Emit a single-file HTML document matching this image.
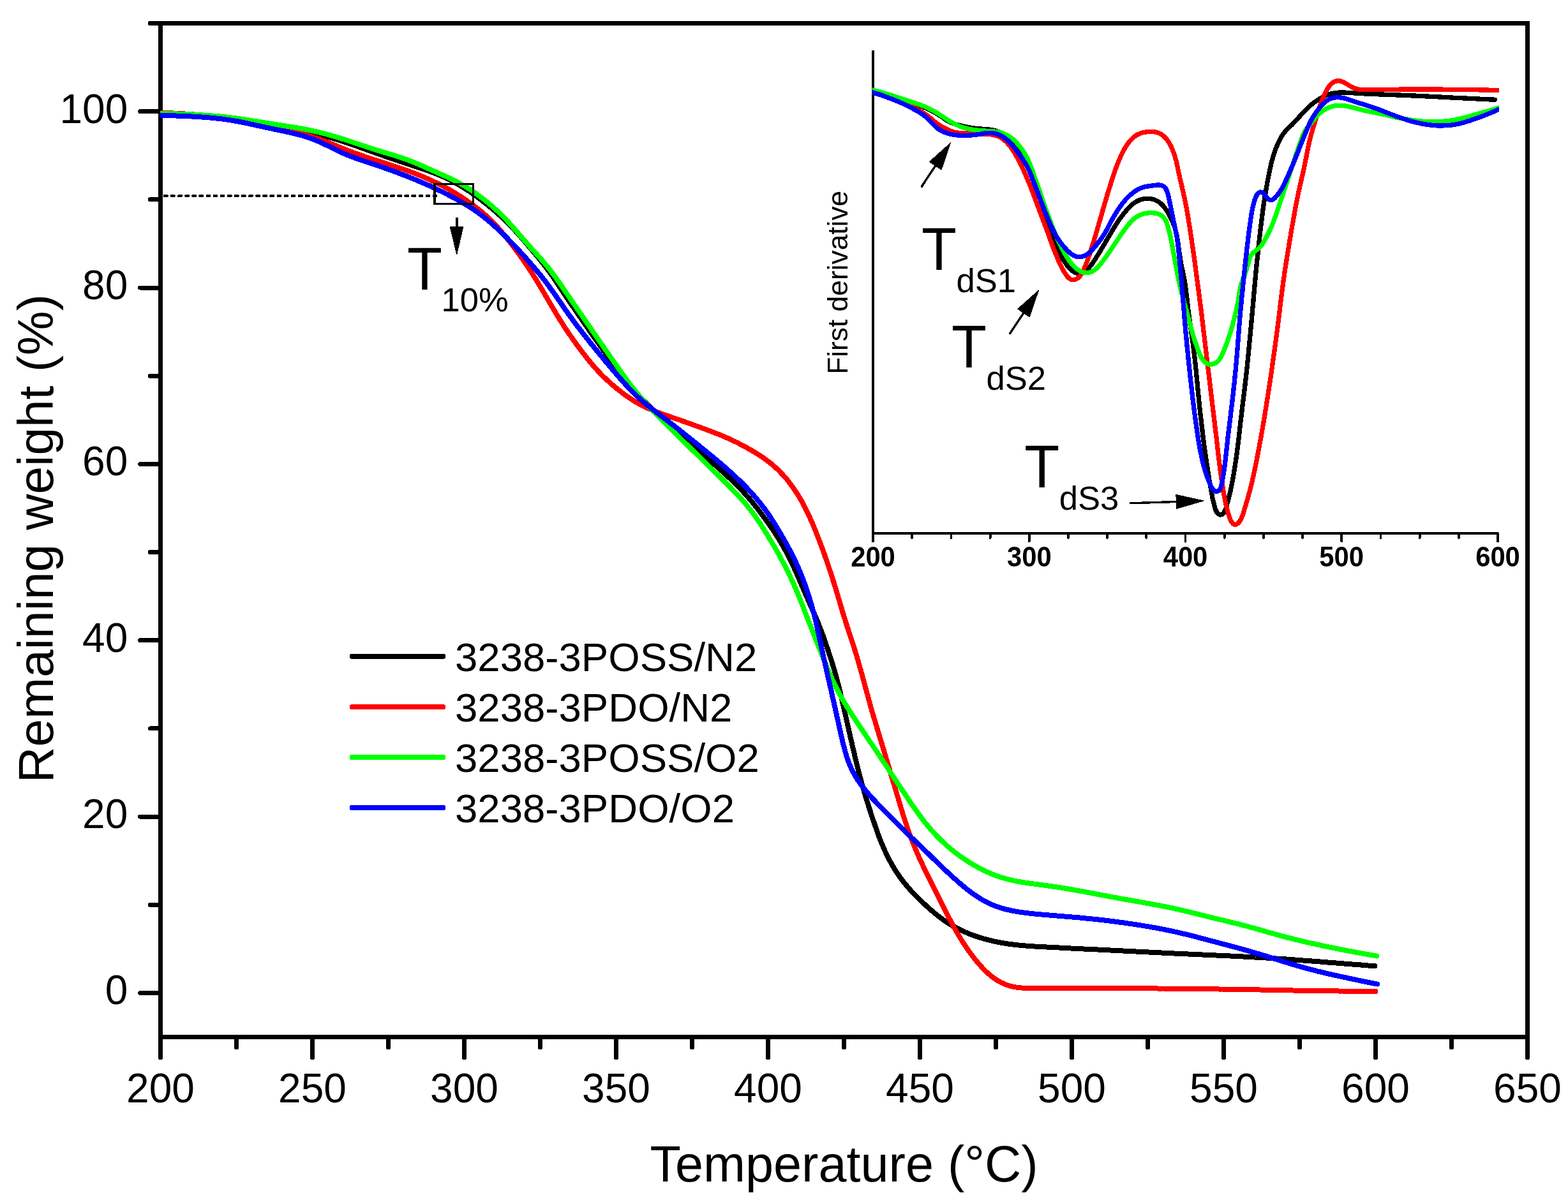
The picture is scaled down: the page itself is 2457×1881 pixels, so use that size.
<!DOCTYPE html>
<html lang="en"><head><meta charset="utf-8"><title>TGA curves</title>
<style>html,body{margin:0;padding:0;background:#fff;}svg{display:block;}</style>
</head><body>
<svg width="2457" height="1881" viewBox="0 0 2457 1881" shape-rendering="crispEdges" font-family='"Liberation Sans", sans-serif'>
<rect x="0" y="0" width="2457" height="1881" fill="#ffffff"/>
<g stroke="#000" stroke-width="7.0" fill="none" stroke-linecap="round">
<path d="M251.5,36.5 H2393.5 V1625.5 H251.5 Z" stroke-linejoin="miter" stroke-linecap="butt"/>
<line x1="251.5" y1="1556.4" x2="219.7" y2="1556.4"/>
<line x1="251.5" y1="1280.1" x2="219.7" y2="1280.1"/>
<line x1="251.5" y1="1003.7" x2="219.7" y2="1003.7"/>
<line x1="251.5" y1="727.4" x2="219.7" y2="727.4"/>
<line x1="251.5" y1="451.0" x2="219.7" y2="451.0"/>
<line x1="251.5" y1="174.7" x2="219.7" y2="174.7"/>
<line x1="251.5" y1="1418.2" x2="235.3" y2="1418.2"/>
<line x1="251.5" y1="1141.9" x2="235.3" y2="1141.9"/>
<line x1="251.5" y1="865.5" x2="235.3" y2="865.5"/>
<line x1="251.5" y1="589.2" x2="235.3" y2="589.2"/>
<line x1="251.5" y1="312.8" x2="235.3" y2="312.8"/>
<line x1="251.5" y1="36.5" x2="235.3" y2="36.5"/>
<line x1="251.5" y1="1625.5" x2="251.5" y2="1657.5"/>
<line x1="489.5" y1="1625.5" x2="489.5" y2="1657.5"/>
<line x1="727.5" y1="1625.5" x2="727.5" y2="1657.5"/>
<line x1="965.5" y1="1625.5" x2="965.5" y2="1657.5"/>
<line x1="1203.5" y1="1625.5" x2="1203.5" y2="1657.5"/>
<line x1="1441.5" y1="1625.5" x2="1441.5" y2="1657.5"/>
<line x1="1679.5" y1="1625.5" x2="1679.5" y2="1657.5"/>
<line x1="1917.5" y1="1625.5" x2="1917.5" y2="1657.5"/>
<line x1="2155.5" y1="1625.5" x2="2155.5" y2="1657.5"/>
<line x1="2393.5" y1="1625.5" x2="2393.5" y2="1657.5"/>
<line x1="370.5" y1="1625.5" x2="370.5" y2="1641.5"/>
<line x1="608.5" y1="1625.5" x2="608.5" y2="1641.5"/>
<line x1="846.5" y1="1625.5" x2="846.5" y2="1641.5"/>
<line x1="1084.5" y1="1625.5" x2="1084.5" y2="1641.5"/>
<line x1="1322.5" y1="1625.5" x2="1322.5" y2="1641.5"/>
<line x1="1560.5" y1="1625.5" x2="1560.5" y2="1641.5"/>
<line x1="1798.5" y1="1625.5" x2="1798.5" y2="1641.5"/>
<line x1="2036.5" y1="1625.5" x2="2036.5" y2="1641.5"/>
<line x1="2274.5" y1="1625.5" x2="2274.5" y2="1641.5"/>
</g>
<defs><clipPath id="mc"><rect x="251.1" y="40" width="2140" height="1583"/></clipPath><clipPath id="ic"><rect x="1366.6" y="60" width="982.4" height="790"/></clipPath></defs>
<g fill="none" stroke-linejoin="round" stroke-linecap="round" clip-path="url(#mc)">
<path d="M252.0,179.0 L256.0,179.0 L260.0,179.1 L264.0,179.2 L268.0,179.3 L272.0,179.5 L276.0,179.6 L280.0,179.8 L284.0,180.0 L288.0,180.2 L292.0,180.4 L296.0,180.7 L300.0,180.9 L303.9,181.2 L307.9,181.4 L311.9,181.7 L315.9,182.0 L319.9,182.3 L323.9,182.6 L327.9,182.9 L331.9,183.3 L335.9,183.6 L339.8,184.0 L343.8,184.4 L347.8,184.8 L351.8,185.3 L355.7,185.8 L359.7,186.3 L363.7,186.8 L367.6,187.3 L371.6,187.9 L375.5,188.5 L379.5,189.1 L383.4,189.7 L387.4,190.3 L391.3,191.0 L395.3,191.6 L399.2,192.3 L403.2,193.0 L407.1,193.6 L411.1,194.3 L415.0,194.9 L419.0,195.6 L422.9,196.2 L426.9,196.9 L430.8,197.5 L434.8,198.2 L438.7,198.8 L442.6,199.5 L446.6,200.2 L450.5,200.8 L454.5,201.5 L458.4,202.2 L462.4,202.9 L466.3,203.7 L470.2,204.4 L474.1,205.2 L478.1,206.0 L482.0,206.8 L485.9,207.7 L489.8,208.5 L493.7,209.4 L497.6,210.4 L501.5,211.3 L505.3,212.3 L509.2,213.3 L513.1,214.4 L516.9,215.5 L520.7,216.6 L524.6,217.7 L528.4,218.9 L532.2,220.1 L536.0,221.3 L539.8,222.5 L543.6,223.8 L547.4,225.0 L551.2,226.3 L555.0,227.6 L558.8,229.0 L562.5,230.3 L566.3,231.7 L570.1,233.0 L573.8,234.4 L577.6,235.7 L581.4,237.1 L585.1,238.4 L588.9,239.8 L592.6,241.1 L596.4,242.5 L600.2,243.8 L604.0,245.2 L607.7,246.5 L611.5,247.8 L615.3,249.1 L619.1,250.4 L622.9,251.7 L626.7,252.9 L630.5,254.2 L634.3,255.5 L638.1,256.7 L641.9,258.0 L645.7,259.2 L649.5,260.4 L653.3,261.7 L657.1,262.9 L660.9,264.2 L664.6,265.5 L668.4,266.8 L672.2,268.2 L676.0,269.5 L679.7,270.9 L683.4,272.4 L687.1,273.9 L690.8,275.5 L694.5,277.1 L698.1,278.7 L701.7,280.4 L705.3,282.2 L708.8,284.0 L712.4,285.9 L715.9,287.9 L719.3,289.8 L722.8,291.9 L726.2,294.0 L729.6,296.1 L732.9,298.3 L736.3,300.5 L739.6,302.7 L742.8,305.0 L746.1,307.4 L749.3,309.7 L752.5,312.1 L755.7,314.6 L758.8,317.0 L762.0,319.5 L765.1,322.0 L768.2,324.6 L771.2,327.2 L774.3,329.7 L777.3,332.4 L780.3,335.0 L783.3,337.7 L786.2,340.4 L789.2,343.1 L792.0,345.9 L794.9,348.7 L797.7,351.5 L800.5,354.4 L803.2,357.3 L806.0,360.2 L808.7,363.1 L811.3,366.1 L814.0,369.1 L816.6,372.1 L819.3,375.1 L821.9,378.2 L824.5,381.2 L827.1,384.2 L829.7,387.3 L832.3,390.3 L834.9,393.4 L837.4,396.5 L840.0,399.5 L842.5,402.6 L845.1,405.7 L847.6,408.8 L850.1,412.0 L852.5,415.1 L854.9,418.3 L857.3,421.5 L859.7,424.7 L862.1,427.9 L864.4,431.2 L866.7,434.5 L868.9,437.8 L871.2,441.1 L873.4,444.4 L875.7,447.7 L877.9,451.0 L880.1,454.4 L882.3,457.7 L884.5,461.0 L886.8,464.3 L889.0,467.7 L891.2,471.0 L893.5,474.3 L895.7,477.6 L897.9,480.9 L900.2,484.2 L902.5,487.5 L904.7,490.8 L907.0,494.1 L909.3,497.4 L911.5,500.7 L913.8,504.0 L916.1,507.3 L918.4,510.6 L920.7,513.9 L923.0,517.1 L925.2,520.4 L927.5,523.7 L929.8,527.0 L932.2,530.2 L934.5,533.5 L936.8,536.7 L939.1,540.0 L941.5,543.2 L943.8,546.5 L946.1,549.7 L948.5,553.0 L950.8,556.2 L953.2,559.4 L955.6,562.6 L958.0,565.9 L960.3,569.1 L962.7,572.3 L965.1,575.5 L967.5,578.7 L969.9,581.9 L972.3,585.1 L974.7,588.3 L977.2,591.4 L979.7,594.6 L982.1,597.7 L984.6,600.9 L987.2,604.0 L989.7,607.0 L992.3,610.1 L994.9,613.1 L997.6,616.1 L1000.2,619.1 L1002.9,622.0 L1005.7,624.9 L1008.4,627.8 L1011.2,630.7 L1014.0,633.5 L1016.9,636.3 L1019.8,639.1 L1022.6,641.9 L1025.5,644.6 L1028.5,647.4 L1031.4,650.1 L1034.3,652.8 L1037.3,655.5 L1040.2,658.2 L1043.2,660.9 L1046.2,663.6 L1049.1,666.3 L1052.1,668.9 L1055.1,671.6 L1058.1,674.3 L1061.1,676.9 L1064.1,679.6 L1067.1,682.2 L1070.1,684.9 L1073.1,687.5 L1076.1,690.1 L1079.1,692.8 L1082.1,695.4 L1085.1,698.0 L1088.1,700.7 L1091.2,703.3 L1094.2,705.9 L1097.2,708.5 L1100.2,711.2 L1103.2,713.8 L1106.2,716.4 L1109.3,719.0 L1112.3,721.7 L1115.3,724.3 L1118.3,727.0 L1121.3,729.6 L1124.3,732.3 L1127.3,734.9 L1130.2,737.6 L1133.2,740.3 L1136.2,743.0 L1139.1,745.7 L1142.0,748.4 L1144.9,751.1 L1147.8,753.9 L1150.7,756.7 L1153.5,759.5 L1156.4,762.3 L1159.2,765.2 L1161.9,768.1 L1164.7,771.0 L1167.4,774.0 L1170.0,776.9 L1172.7,779.9 L1175.3,783.0 L1177.8,786.0 L1180.4,789.1 L1182.9,792.2 L1185.4,795.4 L1187.9,798.5 L1190.3,801.7 L1192.7,804.9 L1195.1,808.1 L1197.5,811.3 L1199.8,814.5 L1202.2,817.8 L1204.5,821.1 L1206.8,824.3 L1209.0,827.6 L1211.3,830.9 L1213.5,834.3 L1215.7,837.6 L1217.8,841.0 L1220.0,844.4 L1222.1,847.8 L1224.1,851.2 L1226.1,854.7 L1228.1,858.1 L1230.0,861.6 L1232.0,865.2 L1233.8,868.7 L1235.7,872.2 L1237.5,875.8 L1239.2,879.4 L1241.0,883.0 L1242.7,886.6 L1244.4,890.2 L1246.0,893.9 L1247.7,897.5 L1249.3,901.2 L1250.9,904.9 L1252.5,908.5 L1254.1,912.2 L1255.6,915.9 L1257.2,919.5 L1258.8,923.2 L1260.4,926.9 L1262.0,930.6 L1263.6,934.2 L1265.2,937.9 L1266.8,941.6 L1268.4,945.2 L1270.0,948.9 L1271.7,952.5 L1273.3,956.2 L1274.9,959.8 L1276.5,963.5 L1278.1,967.2 L1279.6,970.9 L1281.2,974.5 L1282.7,978.2 L1284.2,982.0 L1285.6,985.7 L1287.1,989.4 L1288.4,993.2 L1289.8,996.9 L1291.2,1000.7 L1292.5,1004.5 L1293.8,1008.2 L1295.1,1012.0 L1296.4,1015.8 L1297.7,1019.6 L1298.9,1023.4 L1300.2,1027.2 L1301.4,1031.0 L1302.6,1034.8 L1303.8,1038.6 L1305.0,1042.5 L1306.2,1046.3 L1307.3,1050.1 L1308.4,1053.9 L1309.5,1057.8 L1310.6,1061.6 L1311.6,1065.5 L1312.6,1069.4 L1313.6,1073.2 L1314.6,1077.1 L1315.6,1081.0 L1316.5,1084.9 L1317.4,1088.8 L1318.3,1092.7 L1319.2,1096.6 L1320.1,1100.5 L1321.0,1104.4 L1321.9,1108.3 L1322.8,1112.2 L1323.7,1116.1 L1324.6,1120.0 L1325.5,1123.9 L1326.3,1127.8 L1327.2,1131.7 L1328.1,1135.6 L1329.0,1139.5 L1329.9,1143.4 L1330.8,1147.3 L1331.6,1151.2 L1332.5,1155.1 L1333.4,1159.0 L1334.3,1162.9 L1335.2,1166.8 L1336.1,1170.7 L1337.0,1174.6 L1337.9,1178.5 L1338.9,1182.4 L1339.8,1186.3 L1340.7,1190.2 L1341.7,1194.0 L1342.6,1197.9 L1343.6,1201.8 L1344.6,1205.7 L1345.5,1209.6 L1346.5,1213.4 L1347.5,1217.3 L1348.6,1221.2 L1349.6,1225.0 L1350.7,1228.9 L1351.7,1232.7 L1352.8,1236.6 L1354.0,1240.4 L1355.1,1244.3 L1356.2,1248.1 L1357.4,1251.9 L1358.6,1255.7 L1359.8,1259.6 L1361.0,1263.4 L1362.2,1267.2 L1363.5,1271.0 L1364.7,1274.8 L1365.9,1278.6 L1367.2,1282.4 L1368.5,1286.2 L1369.8,1290.0 L1371.1,1293.8 L1372.4,1297.5 L1373.7,1301.3 L1375.0,1305.1 L1376.4,1308.8 L1377.8,1312.6 L1379.3,1316.3 L1380.7,1320.0 L1382.3,1323.7 L1383.8,1327.4 L1385.4,1331.1 L1387.1,1334.7 L1388.8,1338.3 L1390.6,1341.9 L1392.4,1345.5 L1394.2,1349.0 L1396.1,1352.5 L1398.1,1356.0 L1400.1,1359.5 L1402.2,1362.9 L1404.4,1366.3 L1406.5,1369.6 L1408.8,1372.9 L1411.1,1376.2 L1413.5,1379.4 L1415.9,1382.5 L1418.4,1385.6 L1421.0,1388.7 L1423.6,1391.7 L1426.2,1394.7 L1428.9,1397.7 L1431.7,1400.6 L1434.5,1403.4 L1437.3,1406.3 L1440.1,1409.1 L1443.0,1411.9 L1445.9,1414.7 L1448.8,1417.4 L1451.8,1420.2 L1454.7,1422.9 L1457.7,1425.5 L1460.7,1428.1 L1463.8,1430.7 L1466.9,1433.3 L1470.0,1435.8 L1473.2,1438.2 L1476.4,1440.6 L1479.6,1442.9 L1482.9,1445.1 L1486.3,1447.3 L1489.7,1449.4 L1493.1,1451.4 L1496.6,1453.3 L1500.1,1455.2 L1503.7,1457.0 L1507.3,1458.8 L1510.9,1460.4 L1514.6,1462.0 L1518.3,1463.6 L1522.0,1465.0 L1525.8,1466.4 L1529.5,1467.7 L1533.3,1469.0 L1537.2,1470.2 L1541.0,1471.3 L1544.8,1472.4 L1548.7,1473.4 L1552.6,1474.4 L1556.5,1475.3 L1560.4,1476.1 L1564.3,1476.9 L1568.3,1477.6 L1572.2,1478.3 L1576.1,1479.0 L1580.1,1479.6 L1584.1,1480.1 L1588.0,1480.6 L1592.0,1481.1 L1596.0,1481.5 L1600.0,1481.9 L1603.9,1482.3 L1607.9,1482.6 L1611.9,1482.9 L1615.9,1483.2 L1619.9,1483.4 L1623.9,1483.7 L1627.9,1483.9 L1631.9,1484.1 L1635.9,1484.3 L1639.9,1484.5 L1643.9,1484.7 L1647.9,1484.9 L1651.9,1485.1 L1655.9,1485.3 L1659.9,1485.5 L1663.9,1485.7 L1667.8,1486.0 L1671.8,1486.2 L1675.8,1486.4 L1679.8,1486.6 L1683.8,1486.8 L1687.8,1487.0 L1691.8,1487.2 L1695.8,1487.4 L1699.8,1487.6 L1703.8,1487.7 L1707.8,1487.9 L1711.8,1488.1 L1715.8,1488.3 L1719.8,1488.5 L1723.8,1488.7 L1727.8,1488.9 L1731.8,1489.1 L1735.8,1489.3 L1739.8,1489.5 L1743.8,1489.7 L1747.8,1489.9 L1751.7,1490.1 L1755.7,1490.3 L1759.7,1490.5 L1763.7,1490.7 L1767.7,1490.9 L1771.7,1491.1 L1775.7,1491.3 L1779.7,1491.5 L1783.7,1491.7 L1787.7,1491.9 L1791.7,1492.1 L1795.7,1492.3 L1799.7,1492.5 L1803.7,1492.7 L1807.7,1492.9 L1811.7,1493.1 L1815.7,1493.3 L1819.7,1493.5 L1823.7,1493.7 L1827.6,1493.9 L1831.6,1494.1 L1835.6,1494.3 L1839.6,1494.5 L1843.6,1494.7 L1847.6,1494.9 L1851.6,1495.1 L1855.6,1495.3 L1859.6,1495.4 L1863.6,1495.6 L1867.6,1495.8 L1871.6,1496.0 L1875.6,1496.2 L1879.6,1496.4 L1883.6,1496.5 L1887.6,1496.7 L1891.6,1496.9 L1895.6,1497.1 L1899.6,1497.2 L1903.6,1497.4 L1907.6,1497.6 L1911.6,1497.8 L1915.6,1498.0 L1919.6,1498.1 L1923.5,1498.3 L1927.5,1498.5 L1931.5,1498.7 L1935.5,1498.9 L1939.5,1499.1 L1943.5,1499.3 L1947.5,1499.5 L1951.5,1499.7 L1955.5,1499.9 L1959.5,1500.1 L1963.5,1500.3 L1967.5,1500.6 L1971.5,1500.8 L1975.5,1501.0 L1979.5,1501.2 L1983.5,1501.5 L1987.5,1501.7 L1991.4,1502.0 L1995.4,1502.2 L1999.4,1502.5 L2003.4,1502.7 L2007.4,1503.0 L2011.4,1503.3 L2015.4,1503.5 L2019.4,1503.8 L2023.4,1504.1 L2027.4,1504.4 L2031.4,1504.7 L2035.3,1505.0 L2039.3,1505.3 L2043.3,1505.6 L2047.3,1505.9 L2051.3,1506.2 L2055.3,1506.5 L2059.3,1506.8 L2063.3,1507.1 L2067.3,1507.4 L2071.2,1507.7 L2075.2,1508.1 L2079.2,1508.4 L2083.2,1508.7 L2087.2,1509.0 L2091.2,1509.3 L2095.2,1509.6 L2099.2,1509.9 L2103.2,1510.2 L2107.2,1510.6 L2111.2,1510.9 L2115.1,1511.2 L2119.1,1511.5 L2123.1,1511.8 L2127.1,1512.1 L2131.1,1512.4 L2135.0,1512.7 L2139.0,1513.1 L2142.9,1513.4 L2146.9,1513.7 L2150.8,1514.0 L2154.5,1514.3 L2154.5,1514.3" stroke="#000000" stroke-width="8.0"/>
<path d="M252.0,177.0 L256.0,177.0 L260.0,177.1 L264.0,177.2 L268.0,177.4 L272.0,177.5 L276.0,177.7 L280.0,177.9 L284.0,178.1 L288.0,178.4 L292.0,178.6 L295.9,178.9 L299.9,179.2 L303.9,179.5 L307.9,179.8 L311.9,180.2 L315.9,180.5 L319.9,180.9 L323.9,181.3 L327.8,181.7 L331.8,182.1 L335.8,182.6 L339.8,183.0 L343.7,183.5 L347.7,184.0 L351.6,184.6 L355.6,185.2 L359.5,185.8 L363.5,186.5 L367.4,187.2 L371.4,187.9 L375.3,188.6 L379.2,189.4 L383.1,190.2 L387.1,191.0 L391.0,191.8 L394.9,192.6 L398.8,193.5 L402.7,194.3 L406.6,195.1 L410.5,195.9 L414.5,196.8 L418.4,197.6 L422.3,198.4 L426.2,199.2 L430.1,200.0 L434.1,200.8 L438.0,201.6 L441.9,202.4 L445.8,203.2 L449.7,204.0 L453.6,204.8 L457.6,205.7 L461.5,206.6 L465.4,207.5 L469.2,208.4 L473.1,209.4 L477.0,210.4 L480.8,211.5 L484.7,212.7 L488.5,213.8 L492.3,215.1 L496.0,216.4 L499.8,217.7 L503.5,219.1 L507.3,220.5 L511.0,222.0 L514.7,223.5 L518.4,225.0 L522.1,226.6 L525.8,228.1 L529.5,229.6 L533.2,231.2 L536.9,232.7 L540.6,234.1 L544.3,235.6 L548.1,237.0 L551.8,238.4 L555.5,239.8 L559.3,241.2 L563.1,242.5 L566.9,243.8 L570.6,245.1 L574.4,246.4 L578.2,247.7 L582.0,248.9 L585.8,250.2 L589.6,251.4 L593.4,252.6 L597.2,253.9 L601.1,255.1 L604.9,256.3 L608.7,257.6 L612.5,258.8 L616.3,260.0 L620.1,261.3 L623.9,262.6 L627.6,263.9 L631.4,265.2 L635.2,266.5 L639.0,267.8 L642.7,269.2 L646.5,270.6 L650.2,272.0 L653.9,273.5 L657.7,275.0 L661.4,276.5 L665.0,278.0 L668.7,279.6 L672.4,281.2 L676.0,282.9 L679.6,284.6 L683.3,286.3 L686.8,288.1 L690.4,289.9 L694.0,291.7 L697.5,293.6 L701.0,295.5 L704.5,297.5 L707.9,299.5 L711.4,301.6 L714.8,303.6 L718.2,305.8 L721.5,307.9 L724.9,310.1 L728.2,312.3 L731.5,314.6 L734.8,316.9 L738.0,319.2 L741.3,321.6 L744.5,324.0 L747.6,326.4 L750.8,328.9 L753.9,331.5 L756.9,334.0 L759.9,336.6 L762.9,339.3 L765.8,342.0 L768.7,344.8 L771.6,347.6 L774.4,350.5 L777.1,353.4 L779.8,356.3 L782.5,359.3 L785.1,362.3 L787.7,365.4 L790.2,368.4 L792.7,371.5 L795.3,374.7 L797.7,377.8 L800.2,381.0 L802.6,384.1 L805.0,387.3 L807.5,390.5 L809.8,393.7 L812.2,397.0 L814.6,400.2 L816.9,403.5 L819.2,406.7 L821.5,410.0 L823.7,413.3 L826.0,416.6 L828.2,419.9 L830.4,423.3 L832.6,426.6 L834.7,430.0 L836.9,433.4 L839.0,436.8 L841.1,440.2 L843.2,443.6 L845.2,447.0 L847.3,450.5 L849.3,453.9 L851.3,457.4 L853.4,460.8 L855.4,464.3 L857.4,467.7 L859.4,471.2 L861.4,474.6 L863.5,478.1 L865.5,481.5 L867.5,485.0 L869.6,488.4 L871.6,491.8 L873.7,495.2 L875.8,498.7 L877.9,502.0 L880.1,505.4 L882.2,508.8 L884.4,512.2 L886.6,515.5 L888.8,518.8 L891.0,522.2 L893.3,525.5 L895.6,528.7 L897.9,532.0 L900.2,535.3 L902.5,538.5 L904.9,541.7 L907.3,545.0 L909.7,548.2 L912.1,551.4 L914.5,554.5 L917.0,557.7 L919.4,560.8 L921.9,564.0 L924.5,567.1 L927.0,570.1 L929.6,573.2 L932.3,576.2 L934.9,579.2 L937.6,582.1 L940.4,585.0 L943.2,587.9 L946.0,590.7 L948.9,593.5 L951.8,596.2 L954.7,598.9 L957.7,601.6 L960.7,604.2 L963.8,606.8 L966.9,609.3 L970.0,611.8 L973.2,614.3 L976.4,616.7 L979.6,619.1 L982.9,621.4 L986.1,623.7 L989.5,625.9 L992.8,628.0 L996.2,630.1 L999.7,632.1 L1003.1,634.0 L1006.7,635.9 L1010.2,637.6 L1013.8,639.3 L1017.5,641.0 L1021.2,642.5 L1024.9,644.0 L1028.6,645.5 L1032.3,646.9 L1036.1,648.3 L1039.9,649.6 L1043.6,651.0 L1047.4,652.3 L1051.2,653.6 L1055.0,654.9 L1058.8,656.2 L1062.6,657.5 L1066.3,658.8 L1070.1,660.2 L1073.9,661.5 L1077.7,662.9 L1081.4,664.2 L1085.2,665.6 L1088.9,666.9 L1092.7,668.3 L1096.5,669.6 L1100.2,671.0 L1104.0,672.4 L1107.7,673.8 L1111.5,675.2 L1115.2,676.6 L1119.0,678.0 L1122.7,679.5 L1126.4,680.9 L1130.1,682.4 L1133.8,684.0 L1137.5,685.6 L1141.1,687.2 L1144.8,688.8 L1148.4,690.5 L1152.0,692.3 L1155.6,694.0 L1159.1,695.9 L1162.7,697.7 L1166.2,699.6 L1169.7,701.5 L1173.2,703.5 L1176.7,705.5 L1180.2,707.5 L1183.6,709.5 L1187.0,711.7 L1190.4,713.8 L1193.7,716.0 L1197.0,718.3 L1200.2,720.6 L1203.4,723.0 L1206.6,725.4 L1209.7,728.0 L1212.7,730.6 L1215.7,733.2 L1218.6,735.9 L1221.4,738.7 L1224.2,741.6 L1226.9,744.5 L1229.6,747.5 L1232.2,750.5 L1234.8,753.6 L1237.2,756.8 L1239.6,760.0 L1242.0,763.2 L1244.3,766.5 L1246.5,769.8 L1248.7,773.1 L1250.8,776.5 L1252.9,780.0 L1254.9,783.4 L1256.9,786.9 L1258.8,790.4 L1260.6,794.0 L1262.4,797.5 L1264.2,801.1 L1266.0,804.7 L1267.6,808.3 L1269.3,812.0 L1270.9,815.6 L1272.5,819.3 L1274.1,823.0 L1275.6,826.7 L1277.2,830.4 L1278.7,834.1 L1280.1,837.8 L1281.6,841.5 L1283.0,845.3 L1284.4,849.0 L1285.9,852.8 L1287.3,856.5 L1288.6,860.3 L1290.0,864.0 L1291.4,867.8 L1292.7,871.5 L1294.0,875.3 L1295.4,879.1 L1296.7,882.9 L1298.0,886.7 L1299.2,890.4 L1300.5,894.2 L1301.8,898.0 L1303.0,901.8 L1304.2,905.6 L1305.4,909.5 L1306.6,913.3 L1307.8,917.1 L1309.0,920.9 L1310.1,924.8 L1311.3,928.6 L1312.4,932.4 L1313.5,936.3 L1314.7,940.1 L1315.8,943.9 L1316.9,947.8 L1318.1,951.6 L1319.2,955.4 L1320.3,959.3 L1321.5,963.1 L1322.7,966.9 L1323.9,970.7 L1325.1,974.6 L1326.3,978.4 L1327.5,982.2 L1328.8,986.0 L1330.0,989.8 L1331.3,993.6 L1332.5,997.4 L1333.8,1001.2 L1335.0,1005.0 L1336.3,1008.8 L1337.5,1012.6 L1338.7,1016.4 L1339.9,1020.2 L1341.1,1024.0 L1342.2,1027.9 L1343.4,1031.7 L1344.5,1035.5 L1345.6,1039.4 L1346.7,1043.2 L1347.8,1047.1 L1348.9,1050.9 L1349.9,1054.8 L1351.0,1058.6 L1352.1,1062.5 L1353.1,1066.3 L1354.1,1070.2 L1355.2,1074.1 L1356.2,1077.9 L1357.3,1081.8 L1358.3,1085.7 L1359.4,1089.5 L1360.4,1093.4 L1361.5,1097.2 L1362.6,1101.1 L1363.6,1104.9 L1364.7,1108.8 L1365.8,1112.6 L1366.9,1116.5 L1368.0,1120.3 L1369.2,1124.2 L1370.3,1128.0 L1371.5,1131.8 L1372.6,1135.7 L1373.8,1139.5 L1374.9,1143.3 L1376.1,1147.1 L1377.2,1151.0 L1378.4,1154.8 L1379.6,1158.6 L1380.7,1162.5 L1381.9,1166.3 L1383.0,1170.1 L1384.2,1173.9 L1385.3,1177.8 L1386.5,1181.6 L1387.6,1185.4 L1388.8,1189.3 L1389.9,1193.1 L1391.1,1196.9 L1392.2,1200.8 L1393.4,1204.6 L1394.5,1208.4 L1395.7,1212.3 L1396.8,1216.1 L1398.0,1219.9 L1399.1,1223.8 L1400.2,1227.6 L1401.4,1231.4 L1402.5,1235.2 L1403.7,1239.1 L1404.8,1242.9 L1406.0,1246.7 L1407.1,1250.6 L1408.3,1254.4 L1409.4,1258.2 L1410.5,1262.1 L1411.7,1265.9 L1412.9,1269.7 L1414.0,1273.6 L1415.2,1277.4 L1416.4,1281.2 L1417.6,1285.0 L1418.9,1288.8 L1420.1,1292.6 L1421.4,1296.4 L1422.7,1300.2 L1424.0,1304.0 L1425.4,1307.7 L1426.7,1311.5 L1428.2,1315.2 L1429.6,1318.9 L1431.1,1322.7 L1432.6,1326.4 L1434.1,1330.1 L1435.7,1333.7 L1437.3,1337.4 L1438.9,1341.1 L1440.5,1344.7 L1442.2,1348.4 L1443.9,1352.0 L1445.6,1355.6 L1447.3,1359.2 L1449.0,1362.8 L1450.8,1366.4 L1452.5,1370.0 L1454.3,1373.6 L1456.0,1377.2 L1457.8,1380.8 L1459.6,1384.4 L1461.4,1388.0 L1463.1,1391.5 L1464.9,1395.1 L1466.7,1398.7 L1468.5,1402.3 L1470.3,1405.8 L1472.1,1409.4 L1473.9,1413.0 L1475.7,1416.6 L1477.5,1420.1 L1479.3,1423.7 L1481.1,1427.3 L1483.0,1430.8 L1484.8,1434.4 L1486.6,1437.9 L1488.5,1441.5 L1490.4,1445.0 L1492.2,1448.6 L1494.2,1452.1 L1496.1,1455.6 L1498.1,1459.1 L1500.0,1462.5 L1502.1,1466.0 L1504.1,1469.4 L1506.2,1472.8 L1508.3,1476.2 L1510.5,1479.6 L1512.7,1482.9 L1514.9,1486.2 L1517.2,1489.5 L1519.6,1492.8 L1521.9,1496.0 L1524.3,1499.2 L1526.8,1502.4 L1529.3,1505.5 L1531.9,1508.6 L1534.5,1511.6 L1537.2,1514.6 L1539.9,1517.6 L1542.7,1520.5 L1545.6,1523.3 L1548.5,1526.0 L1551.6,1528.6 L1554.7,1531.2 L1557.9,1533.5 L1561.1,1535.7 L1564.5,1537.8 L1567.9,1539.7 L1571.5,1541.4 L1575.1,1542.9 L1578.8,1544.3 L1582.5,1545.4 L1586.3,1546.4 L1590.2,1547.2 L1594.1,1547.8 L1598.0,1548.3 L1602.0,1548.6 L1606.0,1548.8 L1610.0,1549.0 L1614.0,1549.1 L1618.1,1549.1 L1622.1,1549.0 L1626.1,1549.0 L1630.1,1548.9 L1634.2,1548.9 L1638.2,1548.8 L1642.2,1548.7 L1646.2,1548.7 L1650.2,1548.7 L1654.2,1548.6 L1658.2,1548.6 L1662.2,1548.6 L1666.2,1548.6 L1670.2,1548.6 L1674.2,1548.6 L1678.2,1548.7 L1682.2,1548.7 L1686.2,1548.7 L1690.2,1548.7 L1694.2,1548.7 L1698.2,1548.7 L1702.2,1548.8 L1706.2,1548.8 L1710.2,1548.8 L1714.2,1548.8 L1718.2,1548.8 L1722.2,1548.9 L1726.2,1548.9 L1730.2,1548.9 L1734.2,1548.9 L1738.2,1548.9 L1742.2,1549.0 L1746.2,1549.0 L1750.2,1549.0 L1754.2,1549.0 L1758.2,1549.0 L1762.2,1549.1 L1766.2,1549.1 L1770.2,1549.1 L1774.2,1549.1 L1778.2,1549.2 L1782.2,1549.2 L1786.2,1549.2 L1790.2,1549.3 L1794.2,1549.3 L1798.2,1549.3 L1802.2,1549.3 L1806.2,1549.4 L1810.2,1549.4 L1814.2,1549.5 L1818.2,1549.5 L1822.2,1549.5 L1826.2,1549.6 L1830.2,1549.6 L1834.2,1549.6 L1838.2,1549.7 L1842.2,1549.7 L1846.2,1549.8 L1850.2,1549.8 L1854.2,1549.8 L1858.2,1549.9 L1862.2,1549.9 L1866.2,1550.0 L1870.2,1550.0 L1874.2,1550.1 L1878.2,1550.1 L1882.2,1550.2 L1886.2,1550.2 L1890.2,1550.3 L1894.2,1550.3 L1898.2,1550.3 L1902.2,1550.4 L1906.2,1550.4 L1910.2,1550.5 L1914.2,1550.5 L1918.2,1550.6 L1922.2,1550.6 L1926.2,1550.7 L1930.2,1550.8 L1934.2,1550.8 L1938.2,1550.9 L1942.2,1550.9 L1946.2,1551.0 L1950.2,1551.1 L1954.2,1551.1 L1958.2,1551.2 L1962.2,1551.3 L1966.2,1551.3 L1970.2,1551.4 L1974.2,1551.5 L1978.2,1551.6 L1982.2,1551.7 L1986.2,1551.7 L1990.2,1551.8 L1994.2,1551.9 L1998.2,1552.0 L2002.2,1552.1 L2006.2,1552.1 L2010.2,1552.2 L2014.2,1552.3 L2018.2,1552.4 L2022.2,1552.4 L2026.2,1552.5 L2030.2,1552.6 L2034.2,1552.6 L2038.2,1552.7 L2042.2,1552.8 L2046.2,1552.8 L2050.2,1552.9 L2054.2,1552.9 L2058.2,1553.0 L2062.2,1553.0 L2066.2,1553.1 L2070.2,1553.1 L2074.2,1553.2 L2078.2,1553.2 L2082.2,1553.3 L2086.2,1553.3 L2090.2,1553.4 L2094.2,1553.4 L2098.2,1553.5 L2102.2,1553.5 L2106.2,1553.6 L2110.2,1553.6 L2114.2,1553.6 L2118.2,1553.7 L2122.2,1553.7 L2126.2,1553.8 L2130.2,1553.8 L2134.2,1553.8 L2138.1,1553.9 L2142.1,1553.9 L2146.0,1553.9 L2150.0,1554.0 L2153.9,1554.0 L2155.5,1554.0" stroke="#ff0000" stroke-width="8.0"/>
<path d="M252.0,178.0 L256.0,178.0 L260.0,178.1 L264.0,178.1 L268.0,178.2 L272.0,178.3 L276.0,178.4 L280.0,178.6 L284.0,178.7 L288.0,178.9 L292.0,179.0 L296.0,179.2 L300.0,179.4 L304.0,179.6 L308.0,179.8 L312.0,180.1 L316.0,180.3 L319.9,180.6 L323.9,180.8 L327.9,181.1 L331.9,181.4 L335.9,181.7 L339.9,182.0 L343.9,182.4 L347.9,182.8 L351.8,183.2 L355.8,183.6 L359.8,184.1 L363.7,184.6 L367.7,185.1 L371.7,185.7 L375.6,186.2 L379.6,186.8 L383.5,187.4 L387.5,188.0 L391.4,188.7 L395.4,189.3 L399.3,189.9 L403.3,190.5 L407.2,191.2 L411.2,191.8 L415.1,192.4 L419.1,193.0 L423.0,193.7 L427.0,194.3 L431.0,194.9 L434.9,195.5 L438.9,196.1 L442.8,196.7 L446.8,197.3 L450.7,197.9 L454.7,198.5 L458.6,199.2 L462.6,199.8 L466.5,200.5 L470.5,201.2 L474.4,201.9 L478.3,202.7 L482.2,203.5 L486.2,204.3 L490.1,205.1 L494.0,206.0 L497.9,206.9 L501.7,207.8 L505.6,208.8 L509.5,209.8 L513.4,210.8 L517.2,211.9 L521.1,213.0 L524.9,214.1 L528.7,215.2 L532.6,216.4 L536.4,217.6 L540.2,218.8 L544.0,220.0 L547.8,221.3 L551.6,222.5 L555.4,223.8 L559.2,225.1 L563.0,226.4 L566.8,227.6 L570.6,228.9 L574.4,230.2 L578.2,231.4 L582.0,232.7 L585.8,233.9 L589.6,235.1 L593.4,236.3 L597.2,237.4 L601.1,238.6 L604.9,239.7 L608.7,240.9 L612.6,242.0 L616.4,243.2 L620.2,244.4 L624.0,245.6 L627.8,246.8 L631.6,248.1 L635.4,249.4 L639.1,250.8 L642.9,252.2 L646.6,253.7 L650.3,255.2 L653.9,256.7 L657.6,258.3 L661.3,259.9 L664.9,261.5 L668.6,263.2 L672.2,264.8 L675.9,266.4 L679.5,268.1 L683.2,269.7 L686.9,271.3 L690.5,273.0 L694.2,274.6 L697.8,276.2 L701.4,277.9 L705.1,279.6 L708.7,281.3 L712.3,283.1 L715.8,284.9 L719.3,286.8 L722.8,288.7 L726.3,290.7 L729.7,292.7 L733.1,294.8 L736.5,296.9 L739.8,299.2 L743.1,301.4 L746.4,303.7 L749.6,306.1 L752.8,308.5 L756.0,310.9 L759.1,313.4 L762.3,315.9 L765.4,318.5 L768.4,321.0 L771.5,323.6 L774.5,326.3 L777.4,329.0 L780.4,331.7 L783.3,334.4 L786.1,337.2 L789.0,340.0 L791.7,342.9 L794.5,345.8 L797.2,348.7 L799.9,351.7 L802.6,354.7 L805.2,357.7 L807.8,360.7 L810.4,363.8 L813.0,366.8 L815.6,369.8 L818.2,372.9 L820.8,375.9 L823.4,378.9 L826.1,381.9 L828.7,384.9 L831.4,387.9 L834.0,390.9 L836.7,393.8 L839.4,396.8 L842.1,399.8 L844.8,402.7 L847.4,405.7 L850.0,408.7 L852.6,411.8 L855.2,414.8 L857.7,417.9 L860.2,421.0 L862.7,424.2 L865.1,427.4 L867.5,430.6 L869.8,433.8 L872.2,437.1 L874.5,440.3 L876.8,443.6 L879.0,446.9 L881.3,450.2 L883.6,453.5 L885.8,456.8 L888.1,460.1 L890.3,463.4 L892.6,466.7 L894.9,470.0 L897.1,473.3 L899.4,476.6 L901.7,479.9 L904.0,483.2 L906.2,486.5 L908.5,489.8 L910.8,493.1 L913.0,496.4 L915.3,499.7 L917.6,503.0 L919.8,506.3 L922.1,509.6 L924.3,512.9 L926.6,516.2 L928.9,519.5 L931.1,522.7 L933.4,526.0 L935.7,529.3 L937.9,532.6 L940.2,535.9 L942.5,539.2 L944.8,542.5 L947.0,545.8 L949.3,549.1 L951.6,552.3 L953.9,555.6 L956.2,558.9 L958.5,562.2 L960.8,565.5 L963.1,568.7 L965.4,572.0 L967.7,575.3 L970.0,578.6 L972.3,581.8 L974.6,585.1 L976.9,588.3 L979.3,591.6 L981.6,594.8 L984.0,598.0 L986.4,601.2 L988.8,604.4 L991.3,607.6 L993.8,610.7 L996.3,613.8 L998.8,616.9 L1001.4,620.0 L1004.0,623.0 L1006.6,626.0 L1009.3,629.0 L1011.9,632.0 L1014.6,634.9 L1017.4,637.9 L1020.1,640.8 L1022.9,643.7 L1025.7,646.5 L1028.4,649.4 L1031.2,652.3 L1034.1,655.1 L1036.9,657.9 L1039.7,660.8 L1042.5,663.6 L1045.4,666.4 L1048.2,669.3 L1051.0,672.1 L1053.9,674.9 L1056.7,677.7 L1059.6,680.5 L1062.4,683.3 L1065.3,686.1 L1068.1,688.9 L1071.0,691.7 L1073.8,694.5 L1076.7,697.3 L1079.6,700.1 L1082.4,702.9 L1085.3,705.7 L1088.2,708.5 L1091.0,711.3 L1093.9,714.1 L1096.8,716.8 L1099.6,719.6 L1102.5,722.4 L1105.3,725.2 L1108.2,728.0 L1111.1,730.8 L1113.9,733.6 L1116.8,736.5 L1119.6,739.3 L1122.4,742.1 L1125.3,744.9 L1128.1,747.7 L1131.0,750.5 L1133.8,753.4 L1136.6,756.2 L1139.4,759.0 L1142.3,761.9 L1145.1,764.7 L1147.9,767.6 L1150.7,770.4 L1153.4,773.3 L1156.2,776.2 L1158.9,779.2 L1161.6,782.1 L1164.3,785.1 L1166.9,788.1 L1169.5,791.2 L1172.0,794.3 L1174.5,797.4 L1176.9,800.5 L1179.3,803.7 L1181.7,806.9 L1184.0,810.2 L1186.3,813.5 L1188.5,816.8 L1190.8,820.1 L1192.9,823.5 L1195.1,826.8 L1197.2,830.2 L1199.4,833.6 L1201.5,837.0 L1203.5,840.4 L1205.6,843.9 L1207.7,847.3 L1209.7,850.7 L1211.8,854.2 L1213.8,857.6 L1215.8,861.1 L1217.8,864.6 L1219.8,868.0 L1221.7,871.5 L1223.6,875.0 L1225.5,878.6 L1227.4,882.1 L1229.3,885.6 L1231.1,889.2 L1232.9,892.8 L1234.7,896.3 L1236.4,899.9 L1238.1,903.5 L1239.8,907.2 L1241.5,910.8 L1243.2,914.4 L1244.8,918.1 L1246.4,921.8 L1247.9,925.4 L1249.5,929.1 L1251.0,932.8 L1252.5,936.5 L1254.0,940.3 L1255.5,944.0 L1256.9,947.7 L1258.4,951.4 L1259.8,955.2 L1261.3,958.9 L1262.7,962.6 L1264.2,966.3 L1265.6,970.1 L1267.1,973.8 L1268.5,977.5 L1270.0,981.2 L1271.5,985.0 L1272.9,988.7 L1274.4,992.4 L1275.9,996.1 L1277.4,999.8 L1278.8,1003.6 L1280.3,1007.3 L1281.8,1011.0 L1283.3,1014.7 L1284.8,1018.4 L1286.3,1022.1 L1287.7,1025.8 L1289.2,1029.6 L1290.7,1033.3 L1292.2,1037.0 L1293.7,1040.7 L1295.3,1044.4 L1296.8,1048.1 L1298.4,1051.8 L1299.9,1055.4 L1301.6,1059.1 L1303.2,1062.7 L1304.8,1066.4 L1306.5,1070.0 L1308.3,1073.6 L1310.0,1077.2 L1311.8,1080.8 L1313.7,1084.3 L1315.5,1087.8 L1317.5,1091.4 L1319.4,1094.8 L1321.4,1098.3 L1323.4,1101.7 L1325.5,1105.2 L1327.6,1108.6 L1329.7,1112.0 L1331.9,1115.3 L1334.0,1118.7 L1336.2,1122.1 L1338.4,1125.4 L1340.6,1128.7 L1342.8,1132.1 L1345.1,1135.4 L1347.3,1138.7 L1349.5,1142.0 L1351.8,1145.3 L1354.0,1148.7 L1356.3,1152.0 L1358.5,1155.3 L1360.7,1158.6 L1362.9,1161.9 L1365.2,1165.3 L1367.4,1168.6 L1369.6,1171.9 L1371.8,1175.2 L1374.1,1178.6 L1376.3,1181.9 L1378.5,1185.2 L1380.7,1188.6 L1382.9,1191.9 L1385.1,1195.2 L1387.4,1198.5 L1389.6,1201.9 L1391.8,1205.2 L1394.0,1208.5 L1396.2,1211.9 L1398.4,1215.2 L1400.6,1218.5 L1402.9,1221.9 L1405.1,1225.2 L1407.3,1228.5 L1409.5,1231.9 L1411.7,1235.2 L1413.9,1238.5 L1416.1,1241.9 L1418.3,1245.2 L1420.6,1248.5 L1422.8,1251.8 L1425.0,1255.2 L1427.3,1258.5 L1429.5,1261.8 L1431.8,1265.1 L1434.1,1268.4 L1436.4,1271.6 L1438.7,1274.9 L1441.1,1278.1 L1443.4,1281.3 L1445.9,1284.5 L1448.3,1287.7 L1450.8,1290.8 L1453.3,1293.9 L1455.9,1297.0 L1458.5,1300.0 L1461.1,1303.0 L1463.8,1306.0 L1466.5,1308.9 L1469.3,1311.8 L1472.1,1314.6 L1475.0,1317.4 L1477.9,1320.2 L1480.8,1322.9 L1483.8,1325.6 L1486.8,1328.2 L1489.9,1330.8 L1493.0,1333.3 L1496.1,1335.8 L1499.3,1338.2 L1502.5,1340.6 L1505.7,1343.0 L1509.0,1345.3 L1512.3,1347.5 L1515.6,1349.7 L1519.0,1351.8 L1522.4,1353.9 L1525.9,1356.0 L1529.4,1357.9 L1532.9,1359.9 L1536.4,1361.7 L1540.0,1363.5 L1543.6,1365.3 L1547.2,1366.9 L1550.9,1368.6 L1554.6,1370.1 L1558.3,1371.6 L1562.0,1373.0 L1565.8,1374.3 L1569.6,1375.5 L1573.4,1376.6 L1577.3,1377.7 L1581.1,1378.7 L1585.0,1379.6 L1588.9,1380.5 L1592.8,1381.3 L1596.8,1382.0 L1600.7,1382.7 L1604.6,1383.3 L1608.6,1383.9 L1612.6,1384.5 L1616.5,1385.0 L1620.5,1385.6 L1624.5,1386.1 L1628.4,1386.6 L1632.4,1387.1 L1636.4,1387.7 L1640.3,1388.2 L1644.3,1388.8 L1648.3,1389.3 L1652.2,1389.9 L1656.2,1390.5 L1660.1,1391.1 L1664.1,1391.8 L1668.0,1392.4 L1672.0,1393.1 L1675.9,1393.7 L1679.9,1394.4 L1683.8,1395.1 L1687.7,1395.8 L1691.7,1396.5 L1695.6,1397.2 L1699.5,1397.9 L1703.5,1398.7 L1707.4,1399.4 L1711.3,1400.1 L1715.3,1400.9 L1719.2,1401.6 L1723.1,1402.4 L1727.1,1403.1 L1731.0,1403.9 L1734.9,1404.6 L1738.8,1405.4 L1742.8,1406.1 L1746.7,1406.8 L1750.6,1407.5 L1754.6,1408.2 L1758.5,1409.0 L1762.5,1409.7 L1766.4,1410.3 L1770.3,1411.0 L1774.3,1411.7 L1778.2,1412.4 L1782.2,1413.1 L1786.1,1413.8 L1790.0,1414.5 L1794.0,1415.2 L1797.9,1415.9 L1801.9,1416.6 L1805.8,1417.3 L1809.7,1418.1 L1813.6,1418.8 L1817.6,1419.6 L1821.5,1420.3 L1825.4,1421.1 L1829.3,1421.9 L1833.3,1422.7 L1837.2,1423.5 L1841.1,1424.4 L1845.0,1425.2 L1848.9,1426.1 L1852.8,1427.0 L1856.7,1427.9 L1860.6,1428.8 L1864.5,1429.8 L1868.4,1430.7 L1872.2,1431.7 L1876.1,1432.7 L1880.0,1433.6 L1883.9,1434.6 L1887.8,1435.6 L1891.6,1436.5 L1895.5,1437.5 L1899.4,1438.5 L1903.3,1439.4 L1907.2,1440.3 L1911.1,1441.3 L1915.0,1442.2 L1918.9,1443.1 L1922.7,1444.0 L1926.6,1445.0 L1930.5,1445.9 L1934.4,1446.9 L1938.3,1447.8 L1942.2,1448.8 L1946.0,1449.8 L1949.9,1450.8 L1953.8,1451.8 L1957.6,1452.9 L1961.5,1454.0 L1965.3,1455.0 L1969.2,1456.1 L1973.0,1457.2 L1976.9,1458.3 L1980.7,1459.4 L1984.6,1460.6 L1988.4,1461.7 L1992.3,1462.7 L1996.1,1463.8 L2000.0,1464.9 L2003.8,1466.0 L2007.7,1467.0 L2011.5,1468.0 L2015.4,1469.1 L2019.3,1470.1 L2023.2,1471.0 L2027.0,1472.0 L2030.9,1473.0 L2034.8,1473.9 L2038.7,1474.8 L2042.6,1475.8 L2046.5,1476.7 L2050.4,1477.6 L2054.3,1478.5 L2058.2,1479.3 L2062.1,1480.2 L2066.0,1481.0 L2069.9,1481.9 L2073.8,1482.7 L2077.7,1483.5 L2081.7,1484.3 L2085.6,1485.1 L2089.5,1485.9 L2093.4,1486.7 L2097.4,1487.5 L2101.3,1488.3 L2105.2,1489.0 L2109.2,1489.8 L2113.1,1490.6 L2117.1,1491.3 L2121.0,1492.0 L2124.9,1492.8 L2128.9,1493.5 L2132.8,1494.2 L2136.7,1494.9 L2140.5,1495.6 L2144.4,1496.3 L2148.2,1497.0 L2152.0,1497.6 L2155.8,1498.3 L2157.0,1498.5" stroke="#00ff00" stroke-width="8.0"/>
<path d="M252.0,181.0 L256.0,181.0 L260.0,181.1 L264.0,181.1 L268.0,181.2 L272.0,181.3 L276.0,181.5 L280.0,181.6 L284.0,181.8 L288.0,181.9 L292.0,182.1 L296.0,182.3 L300.0,182.5 L304.0,182.8 L308.0,183.0 L312.0,183.3 L315.9,183.5 L319.9,183.8 L323.9,184.1 L327.9,184.4 L331.9,184.8 L335.9,185.2 L339.9,185.6 L343.8,186.0 L347.8,186.5 L351.8,187.0 L355.7,187.6 L359.7,188.1 L363.6,188.8 L367.6,189.5 L371.5,190.2 L375.4,190.9 L379.3,191.7 L383.3,192.5 L387.2,193.3 L391.1,194.2 L395.0,195.0 L398.9,195.9 L402.8,196.7 L406.7,197.6 L410.6,198.4 L414.5,199.3 L418.5,200.1 L422.4,200.9 L426.3,201.8 L430.2,202.6 L434.1,203.4 L438.0,204.2 L442.0,205.0 L445.9,205.9 L449.8,206.7 L453.7,207.6 L457.6,208.5 L461.5,209.4 L465.4,210.4 L469.2,211.4 L473.1,212.4 L476.9,213.6 L480.7,214.8 L484.5,216.0 L488.3,217.4 L492.0,218.8 L495.7,220.3 L499.4,221.8 L503.0,223.5 L506.6,225.1 L510.2,226.9 L513.8,228.6 L517.4,230.4 L521.0,232.2 L524.6,233.9 L528.2,235.7 L531.8,237.4 L535.4,239.1 L539.0,240.7 L542.7,242.3 L546.4,243.8 L550.1,245.3 L553.8,246.7 L557.6,248.0 L561.4,249.4 L565.1,250.7 L568.9,252.0 L572.7,253.2 L576.5,254.5 L580.3,255.7 L584.1,257.0 L587.9,258.3 L591.7,259.5 L595.5,260.8 L599.3,262.1 L603.1,263.5 L606.8,264.8 L610.6,266.2 L614.3,267.5 L618.1,268.9 L621.8,270.3 L625.6,271.7 L629.3,273.2 L633.1,274.6 L636.8,276.0 L640.5,277.5 L644.2,279.0 L647.9,280.5 L651.6,282.0 L655.3,283.5 L659.0,285.1 L662.7,286.7 L666.4,288.3 L670.0,289.9 L673.7,291.5 L677.3,293.2 L680.9,294.9 L684.5,296.6 L688.1,298.4 L691.7,300.1 L695.3,301.9 L698.9,303.7 L702.4,305.5 L706.0,307.4 L709.5,309.3 L713.1,311.1 L716.6,313.1 L720.1,315.0 L723.5,317.0 L727.0,319.0 L730.4,321.0 L733.8,323.1 L737.2,325.2 L740.6,327.4 L743.9,329.7 L747.2,331.9 L750.4,334.3 L753.6,336.7 L756.8,339.1 L759.9,341.6 L763.0,344.1 L766.1,346.6 L769.1,349.2 L772.1,351.9 L775.1,354.6 L778.1,357.2 L781.0,360.0 L783.9,362.7 L786.8,365.5 L789.7,368.3 L792.5,371.1 L795.3,373.9 L798.1,376.8 L800.9,379.6 L803.7,382.5 L806.5,385.4 L809.2,388.3 L811.9,391.3 L814.6,394.2 L817.3,397.2 L820.0,400.1 L822.7,403.1 L825.4,406.1 L828.0,409.1 L830.6,412.1 L833.3,415.1 L835.9,418.2 L838.5,421.2 L841.0,424.3 L843.6,427.3 L846.1,430.4 L848.6,433.5 L851.1,436.7 L853.6,439.8 L856.0,443.0 L858.4,446.2 L860.8,449.4 L863.1,452.7 L865.5,455.9 L867.8,459.2 L870.1,462.5 L872.3,465.7 L874.6,469.0 L876.9,472.3 L879.2,475.6 L881.4,478.9 L883.7,482.2 L886.0,485.5 L888.3,488.7 L890.6,492.0 L893.0,495.3 L895.3,498.5 L897.7,501.7 L900.0,504.9 L902.4,508.2 L904.8,511.3 L907.3,514.5 L909.7,517.7 L912.1,520.9 L914.6,524.0 L917.1,527.2 L919.5,530.3 L922.0,533.4 L924.5,536.6 L927.0,539.7 L929.5,542.8 L932.1,545.9 L934.6,549.0 L937.1,552.1 L939.7,555.2 L942.2,558.3 L944.8,561.3 L947.3,564.4 L949.9,567.5 L952.5,570.5 L955.1,573.6 L957.6,576.7 L960.2,579.7 L962.8,582.8 L965.4,585.8 L968.0,588.9 L970.6,591.9 L973.3,594.9 L975.9,597.9 L978.6,600.9 L981.3,603.8 L984.0,606.8 L986.7,609.7 L989.5,612.5 L992.3,615.4 L995.2,618.2 L998.1,620.9 L1001.0,623.6 L1004.0,626.3 L1007.0,628.9 L1010.0,631.5 L1013.1,634.1 L1016.2,636.6 L1019.3,639.1 L1022.5,641.6 L1025.6,644.0 L1028.8,646.5 L1032.0,648.9 L1035.2,651.3 L1038.3,653.8 L1041.5,656.2 L1044.7,658.6 L1047.9,661.0 L1051.1,663.5 L1054.2,665.9 L1057.4,668.4 L1060.5,670.8 L1063.7,673.3 L1066.8,675.8 L1070.0,678.3 L1073.1,680.8 L1076.2,683.3 L1079.3,685.8 L1082.4,688.3 L1085.6,690.8 L1088.7,693.3 L1091.8,695.8 L1094.9,698.3 L1098.0,700.8 L1101.1,703.4 L1104.2,705.9 L1107.3,708.4 L1110.4,711.0 L1113.5,713.5 L1116.6,716.0 L1119.6,718.6 L1122.7,721.2 L1125.8,723.7 L1128.8,726.3 L1131.9,728.9 L1134.9,731.5 L1137.9,734.2 L1140.9,736.8 L1143.9,739.5 L1146.9,742.2 L1149.8,744.9 L1152.7,747.6 L1155.6,750.3 L1158.5,753.1 L1161.4,755.9 L1164.2,758.7 L1167.0,761.6 L1169.8,764.4 L1172.6,767.3 L1175.3,770.3 L1178.0,773.2 L1180.7,776.2 L1183.3,779.2 L1185.9,782.3 L1188.5,785.3 L1191.0,788.4 L1193.5,791.6 L1195.9,794.7 L1198.3,797.9 L1200.6,801.2 L1203.0,804.4 L1205.2,807.7 L1207.4,811.0 L1209.6,814.4 L1211.8,817.7 L1213.9,821.1 L1216.0,824.5 L1218.1,828.0 L1220.2,831.4 L1222.2,834.8 L1224.2,838.3 L1226.2,841.8 L1228.2,845.2 L1230.1,848.7 L1232.1,852.2 L1234.0,855.7 L1235.9,859.3 L1237.8,862.8 L1239.7,866.3 L1241.5,869.9 L1243.3,873.5 L1245.0,877.1 L1246.7,880.7 L1248.4,884.3 L1250.1,887.9 L1251.6,891.6 L1253.2,895.3 L1254.7,899.0 L1256.2,902.7 L1257.7,906.4 L1259.1,910.2 L1260.5,913.9 L1261.8,917.7 L1263.1,921.5 L1264.4,925.3 L1265.7,929.1 L1266.9,932.9 L1268.2,936.7 L1269.3,940.5 L1270.5,944.3 L1271.6,948.2 L1272.7,952.0 L1273.7,955.9 L1274.8,959.7 L1275.8,963.6 L1276.7,967.5 L1277.7,971.4 L1278.6,975.3 L1279.5,979.2 L1280.4,983.1 L1281.2,987.0 L1282.1,990.9 L1282.9,994.8 L1283.7,998.7 L1284.6,1002.6 L1285.4,1006.5 L1286.3,1010.4 L1287.1,1014.3 L1288.0,1018.3 L1288.8,1022.2 L1289.7,1026.1 L1290.5,1030.0 L1291.4,1033.9 L1292.3,1037.8 L1293.1,1041.7 L1294.0,1045.6 L1294.9,1049.5 L1295.8,1053.4 L1296.7,1057.3 L1297.5,1061.2 L1298.4,1065.1 L1299.3,1069.0 L1300.2,1072.9 L1301.1,1076.8 L1302.0,1080.7 L1302.9,1084.6 L1303.7,1088.5 L1304.6,1092.4 L1305.5,1096.3 L1306.4,1100.2 L1307.3,1104.1 L1308.1,1108.0 L1309.0,1111.9 L1309.9,1115.8 L1310.7,1119.7 L1311.6,1123.6 L1312.5,1127.5 L1313.4,1131.4 L1314.2,1135.3 L1315.1,1139.3 L1316.0,1143.2 L1316.8,1147.1 L1317.7,1151.0 L1318.6,1154.9 L1319.5,1158.8 L1320.4,1162.7 L1321.4,1166.6 L1322.4,1170.5 L1323.4,1174.3 L1324.4,1178.2 L1325.6,1182.0 L1326.7,1185.9 L1328.0,1189.6 L1329.3,1193.4 L1330.8,1197.1 L1332.3,1200.8 L1333.9,1204.4 L1335.6,1208.0 L1337.5,1211.5 L1339.4,1215.0 L1341.4,1218.4 L1343.5,1221.8 L1345.8,1225.1 L1348.0,1228.4 L1350.4,1231.6 L1352.8,1234.8 L1355.3,1237.9 L1357.9,1241.0 L1360.5,1244.1 L1363.1,1247.1 L1365.8,1250.1 L1368.5,1253.0 L1371.3,1255.9 L1374.0,1258.9 L1376.8,1261.7 L1379.6,1264.6 L1382.4,1267.5 L1385.2,1270.3 L1388.0,1273.2 L1390.8,1276.0 L1393.6,1278.9 L1396.4,1281.7 L1399.2,1284.5 L1402.1,1287.4 L1404.9,1290.2 L1407.7,1293.0 L1410.6,1295.8 L1413.4,1298.6 L1416.3,1301.4 L1419.2,1304.2 L1422.0,1307.0 L1424.9,1309.8 L1427.8,1312.5 L1430.7,1315.3 L1433.6,1318.1 L1436.5,1320.8 L1439.4,1323.6 L1442.3,1326.3 L1445.2,1329.1 L1448.1,1331.9 L1450.9,1334.7 L1453.8,1337.4 L1456.7,1340.2 L1459.6,1343.0 L1462.4,1345.8 L1465.3,1348.6 L1468.2,1351.4 L1471.1,1354.1 L1473.9,1356.9 L1476.8,1359.7 L1479.7,1362.5 L1482.6,1365.2 L1485.5,1367.9 L1488.5,1370.7 L1491.4,1373.4 L1494.4,1376.1 L1497.4,1378.7 L1500.4,1381.4 L1503.4,1384.0 L1506.4,1386.6 L1509.5,1389.2 L1512.6,1391.7 L1515.7,1394.2 L1518.9,1396.7 L1522.1,1399.1 L1525.4,1401.4 L1528.6,1403.7 L1532.0,1405.9 L1535.3,1408.0 L1538.7,1410.1 L1542.2,1412.1 L1545.7,1413.9 L1549.3,1415.7 L1552.9,1417.4 L1556.6,1418.9 L1560.3,1420.4 L1564.0,1421.7 L1567.8,1423.0 L1571.6,1424.1 L1575.5,1425.2 L1579.4,1426.1 L1583.3,1427.0 L1587.2,1427.8 L1591.1,1428.5 L1595.1,1429.2 L1599.0,1429.8 L1603.0,1430.4 L1607.0,1430.9 L1611.0,1431.4 L1614.9,1431.9 L1618.9,1432.3 L1622.9,1432.7 L1626.9,1433.1 L1630.9,1433.4 L1634.9,1433.8 L1638.8,1434.1 L1642.8,1434.4 L1646.8,1434.8 L1650.8,1435.1 L1654.8,1435.4 L1658.8,1435.7 L1662.8,1436.1 L1666.8,1436.4 L1670.7,1436.7 L1674.7,1437.0 L1678.7,1437.4 L1682.7,1437.7 L1686.7,1438.1 L1690.7,1438.4 L1694.6,1438.8 L1698.6,1439.2 L1702.6,1439.6 L1706.6,1439.9 L1710.6,1440.3 L1714.5,1440.8 L1718.5,1441.2 L1722.5,1441.6 L1726.5,1442.1 L1730.4,1442.5 L1734.4,1443.0 L1738.4,1443.5 L1742.4,1444.0 L1746.3,1444.5 L1750.3,1445.0 L1754.3,1445.6 L1758.2,1446.1 L1762.2,1446.6 L1766.1,1447.2 L1770.1,1447.8 L1774.1,1448.4 L1778.0,1448.9 L1782.0,1449.6 L1785.9,1450.2 L1789.9,1450.8 L1793.8,1451.5 L1797.8,1452.1 L1801.7,1452.8 L1805.6,1453.5 L1809.6,1454.2 L1813.5,1454.9 L1817.4,1455.7 L1821.4,1456.4 L1825.3,1457.2 L1829.2,1458.0 L1833.1,1458.8 L1837.0,1459.7 L1841.0,1460.5 L1844.9,1461.4 L1848.8,1462.3 L1852.6,1463.2 L1856.5,1464.1 L1860.4,1465.1 L1864.3,1466.0 L1868.2,1467.0 L1872.1,1468.0 L1875.9,1469.0 L1879.8,1470.0 L1883.7,1471.1 L1887.5,1472.1 L1891.4,1473.1 L1895.3,1474.1 L1899.1,1475.2 L1903.0,1476.2 L1906.9,1477.2 L1910.7,1478.2 L1914.6,1479.3 L1918.5,1480.3 L1922.3,1481.3 L1926.2,1482.3 L1930.1,1483.4 L1933.9,1484.4 L1937.8,1485.4 L1941.6,1486.5 L1945.5,1487.6 L1949.4,1488.6 L1953.2,1489.7 L1957.0,1490.8 L1960.9,1491.9 L1964.7,1493.1 L1968.6,1494.2 L1972.4,1495.3 L1976.2,1496.5 L1980.1,1497.6 L1983.9,1498.8 L1987.7,1500.0 L1991.5,1501.2 L1995.3,1502.3 L1999.2,1503.5 L2003.0,1504.7 L2006.8,1505.9 L2010.6,1507.1 L2014.5,1508.3 L2018.3,1509.4 L2022.1,1510.6 L2025.9,1511.8 L2029.8,1512.9 L2033.6,1514.0 L2037.4,1515.1 L2041.3,1516.2 L2045.1,1517.3 L2049.0,1518.4 L2052.9,1519.4 L2056.7,1520.4 L2060.6,1521.4 L2064.5,1522.4 L2068.4,1523.3 L2072.3,1524.3 L2076.2,1525.2 L2080.1,1526.1 L2084.0,1527.0 L2087.9,1527.9 L2091.8,1528.7 L2095.7,1529.6 L2099.6,1530.4 L2103.5,1531.3 L2107.4,1532.1 L2111.3,1533.0 L2115.2,1533.8 L2119.2,1534.6 L2123.1,1535.5 L2127.0,1536.3 L2130.9,1537.1 L2134.8,1537.9 L2138.7,1538.7 L2142.6,1539.5 L2146.5,1540.3 L2150.4,1541.0 L2154.3,1541.8 L2158.0,1542.5 L2158.0,1542.5" stroke="#0000ff" stroke-width="8.0"/>
</g>
<g font-size="64" fill="#000">
<text x="200.3" y="1574.3" text-anchor="end">0</text>
<text x="200.3" y="1298.0" text-anchor="end">20</text>
<text x="200.3" y="1021.6" text-anchor="end">40</text>
<text x="200.3" y="745.3" text-anchor="end">60</text>
<text x="200.3" y="468.9" text-anchor="end">80</text>
<text x="200.3" y="192.6" text-anchor="end">100</text>
<text x="251.5" y="1728" text-anchor="middle">200</text>
<text x="489.5" y="1728" text-anchor="middle">250</text>
<text x="727.5" y="1728" text-anchor="middle">300</text>
<text x="965.5" y="1728" text-anchor="middle">350</text>
<text x="1203.5" y="1728" text-anchor="middle">400</text>
<text x="1441.5" y="1728" text-anchor="middle">450</text>
<text x="1679.5" y="1728" text-anchor="middle">500</text>
<text x="1917.5" y="1728" text-anchor="middle">550</text>
<text x="2155.5" y="1728" text-anchor="middle">600</text>
<text x="2393.5" y="1728" text-anchor="middle">650</text>
</g>
<text x="1322.5" y="1851.5" font-size="79.2" text-anchor="middle">Temperature (°C)</text>
<text transform="translate(83,844.2) rotate(-90)" font-size="78.3" text-anchor="middle">Remaining weight (%)</text>
<line x1="551.5" y1="1028.9" x2="694.5" y2="1028.9" stroke="#000000" stroke-width="8.0" stroke-linecap="round"/>
<text x="713" y="1051.5" font-size="63.55">3238-3POSS/N2</text>
<line x1="551.5" y1="1108.3" x2="694.5" y2="1108.3" stroke="#ff0000" stroke-width="8.0" stroke-linecap="round"/>
<text x="713" y="1130.9" font-size="63.55">3238-3PDO/N2</text>
<line x1="551.5" y1="1187.0" x2="694.5" y2="1187.0" stroke="#00ff00" stroke-width="8.0" stroke-linecap="round"/>
<text x="713" y="1209.6" font-size="63.55">3238-3POSS/O2</text>
<line x1="551.5" y1="1266.0" x2="694.5" y2="1266.0" stroke="#0000ff" stroke-width="8.0" stroke-linecap="round"/>
<text x="713" y="1288.6" font-size="63.55">3238-3PDO/O2</text>
<line x1="257.8" y1="307" x2="684" y2="307" stroke="#000" stroke-width="4" stroke-dasharray="4,7.1" stroke-linecap="round"/>
<rect x="681" y="288.6" width="60.5" height="30.8" fill="none" stroke="#000" stroke-width="3.6"/>
<line x1="715.8" y1="340.5" x2="715.8" y2="360" stroke="#000" stroke-width="3.4"/>
<path d="M704.5,355 L726.5,355 L716.3,398.5 L715.2,398.5 Z" fill="#000"/>
<text transform="translate(638,454) scale(1,1.055)" font-size="90">T</text>
<text x="691.6" y="488.4" font-size="52.6">10%</text>
<g stroke="#000" stroke-width="3.8" fill="none" stroke-linecap="round">
<path d="M1368.0,80.65 V848.65 M1368.0,835.75 H2347.0 "/>
<line x1="1612.8" y1="835.75" x2="1612.8" y2="848.6"/>
<line x1="1857.5" y1="835.75" x2="1857.5" y2="848.6"/>
<line x1="2102.2" y1="835.75" x2="2102.2" y2="848.6"/>
<line x1="2347.0" y1="835.75" x2="2347.0" y2="848.6"/>
<line x1="1429.2" y1="835.75" x2="1429.2" y2="843.0"/>
<line x1="1490.4" y1="835.75" x2="1490.4" y2="843.0"/>
<line x1="1551.6" y1="835.75" x2="1551.6" y2="843.0"/>
<line x1="1673.9" y1="835.75" x2="1673.9" y2="843.0"/>
<line x1="1735.1" y1="835.75" x2="1735.1" y2="843.0"/>
<line x1="1796.3" y1="835.75" x2="1796.3" y2="843.0"/>
<line x1="1918.7" y1="835.75" x2="1918.7" y2="843.0"/>
<line x1="1979.9" y1="835.75" x2="1979.9" y2="843.0"/>
<line x1="2041.1" y1="835.75" x2="2041.1" y2="843.0"/>
<line x1="2163.4" y1="835.75" x2="2163.4" y2="843.0"/>
<line x1="2224.6" y1="835.75" x2="2224.6" y2="843.0"/>
<line x1="2285.8" y1="835.75" x2="2285.8" y2="843.0"/>
</g>
<g fill="none" stroke-linejoin="round" stroke-linecap="round" clip-path="url(#ic)">
<path d="M1368.0,144.0 L1371.9,144.7 L1375.9,145.4 L1379.8,146.2 L1383.7,147.1 L1387.6,148.0 L1391.5,149.0 L1395.3,150.0 L1399.2,151.1 L1403.0,152.2 L1406.8,153.4 L1410.6,154.7 L1414.4,156.1 L1418.1,157.5 L1421.9,158.9 L1425.7,160.2 L1429.4,161.5 L1433.2,162.8 L1437.0,164.1 L1440.8,165.4 L1444.5,166.8 L1448.2,168.3 L1451.9,169.9 L1455.5,171.6 L1459.1,173.4 L1462.6,175.3 L1466.1,177.2 L1469.6,179.3 L1472.9,181.4 L1476.3,183.6 L1479.6,185.9 L1482.9,188.1 L1486.4,190.1 L1489.9,191.9 L1493.6,193.4 L1497.4,194.7 L1501.2,195.8 L1505.1,196.9 L1509.0,197.8 L1512.9,198.7 L1516.8,199.5 L1520.8,200.2 L1524.7,200.8 L1528.7,201.3 L1532.7,201.7 L1536.6,202.0 L1540.6,202.3 L1544.6,202.5 L1548.6,202.9 L1552.6,203.4 L1556.5,204.1 L1560.4,205.0 L1564.2,206.3 L1567.9,207.8 L1571.4,209.7 L1574.8,211.8 L1577.9,214.3 L1580.9,216.9 L1583.7,219.8 L1586.2,222.9 L1588.7,226.1 L1591.0,229.3 L1593.3,232.6 L1595.7,235.8 L1598.1,239.0 L1600.4,242.2 L1602.8,245.5 L1605.1,248.8 L1607.2,252.1 L1609.2,255.6 L1611.1,259.1 L1612.8,262.8 L1614.3,266.4 L1615.8,270.2 L1617.2,273.9 L1618.6,277.7 L1619.9,281.4 L1621.2,285.2 L1622.6,289.0 L1623.9,292.8 L1625.2,296.5 L1626.5,300.3 L1627.8,304.1 L1629.0,307.9 L1630.3,311.7 L1631.5,315.5 L1632.7,319.3 L1633.9,323.2 L1635.1,327.0 L1636.3,330.8 L1637.6,334.6 L1638.8,338.4 L1640.1,342.2 L1641.3,346.0 L1642.6,349.8 L1643.8,353.6 L1645.1,357.4 L1646.3,361.2 L1647.6,365.0 L1648.8,368.8 L1650.1,372.5 L1651.5,376.3 L1653.0,380.0 L1654.5,383.7 L1656.1,387.4 L1657.7,391.0 L1659.4,394.7 L1661.2,398.3 L1663.1,401.8 L1665.0,405.3 L1667.1,408.7 L1669.3,412.1 L1671.6,415.3 L1674.0,418.5 L1676.7,421.5 L1679.7,424.2 L1683.1,426.4 L1686.7,428.0 L1690.5,428.6 L1694.3,428.2 L1697.9,426.8 L1701.2,424.6 L1704.2,422.0 L1707.0,419.0 L1709.5,415.9 L1711.9,412.6 L1714.1,409.3 L1716.3,406.0 L1718.4,402.6 L1720.5,399.2 L1722.7,395.8 L1724.7,392.4 L1726.8,388.9 L1728.8,385.5 L1730.9,382.0 L1732.9,378.6 L1734.9,375.1 L1736.9,371.7 L1738.9,368.2 L1741.0,364.8 L1743.0,361.3 L1745.0,357.9 L1747.1,354.5 L1749.3,351.1 L1751.5,347.8 L1753.7,344.5 L1756.1,341.2 L1758.4,338.0 L1760.9,334.9 L1763.4,331.8 L1766.1,328.7 L1768.8,325.8 L1771.6,322.9 L1774.5,320.2 L1777.7,317.8 L1781.1,315.7 L1784.6,313.9 L1788.4,312.6 L1792.3,311.7 L1796.2,311.3 L1800.2,311.3 L1804.2,311.8 L1808.1,312.8 L1811.8,314.3 L1815.2,316.2 L1818.4,318.6 L1821.4,321.3 L1824.0,324.3 L1826.4,327.5 L1828.7,330.8 L1830.7,334.3 L1832.7,337.8 L1834.5,341.3 L1836.2,344.9 L1837.8,348.6 L1839.3,352.3 L1840.6,356.1 L1841.8,359.9 L1842.8,363.8 L1843.7,367.7 L1844.4,371.6 L1845.1,375.6 L1845.7,379.5 L1846.3,383.5 L1846.8,387.4 L1847.4,391.4 L1847.9,395.4 L1848.5,399.3 L1849.1,403.3 L1849.7,407.2 L1850.3,411.2 L1851.0,415.1 L1851.8,419.0 L1852.7,422.9 L1853.6,426.8 L1854.4,430.7 L1855.2,434.7 L1856.0,438.6 L1856.6,442.5 L1857.2,446.5 L1857.8,450.4 L1858.3,454.4 L1858.8,458.4 L1859.2,462.4 L1859.7,466.3 L1860.2,470.3 L1860.6,474.3 L1861.1,478.3 L1861.5,482.2 L1862.0,486.2 L1862.5,490.2 L1863.0,494.1 L1863.6,498.1 L1864.1,502.1 L1864.6,506.0 L1865.2,510.0 L1865.7,514.0 L1866.3,517.9 L1866.9,521.9 L1867.4,525.8 L1868.0,529.8 L1868.5,533.8 L1869.1,537.7 L1869.6,541.7 L1870.1,545.7 L1870.6,549.6 L1871.1,553.6 L1871.6,557.6 L1872.1,561.5 L1872.6,565.5 L1873.0,569.5 L1873.4,573.5 L1873.8,577.4 L1874.3,581.4 L1874.6,585.4 L1875.0,589.4 L1875.4,593.4 L1875.8,597.3 L1876.2,601.3 L1876.6,605.3 L1876.9,609.3 L1877.3,613.3 L1877.7,617.2 L1878.1,621.2 L1878.5,625.2 L1878.9,629.2 L1879.3,633.2 L1879.7,637.1 L1880.1,641.1 L1880.6,645.1 L1881.0,649.1 L1881.5,653.0 L1881.9,657.0 L1882.4,661.0 L1882.8,665.0 L1883.3,668.9 L1883.8,672.9 L1884.2,676.9 L1884.7,680.9 L1885.2,684.8 L1885.7,688.8 L1886.2,692.8 L1886.7,696.7 L1887.3,700.7 L1887.8,704.7 L1888.3,708.6 L1888.9,712.6 L1889.4,716.5 L1890.0,720.5 L1890.6,724.5 L1891.2,728.4 L1891.8,732.4 L1892.4,736.3 L1893.0,740.3 L1893.6,744.2 L1894.3,748.2 L1894.9,752.1 L1895.6,756.1 L1896.3,760.0 L1897.0,764.0 L1897.6,767.9 L1898.3,771.8 L1899.1,775.8 L1899.8,779.7 L1900.7,783.6 L1901.6,787.5 L1902.5,791.4 L1903.5,795.4 L1904.9,799.4 L1906.7,803.0 L1909.2,805.8 L1912.1,807.0 L1915.0,806.5 L1917.5,804.3 L1919.4,801.0 L1920.9,797.0 L1922.0,793.0 L1923.1,789.1 L1924.2,785.2 L1925.3,781.4 L1926.2,777.5 L1927.1,773.6 L1928.0,769.7 L1928.8,765.8 L1929.6,761.9 L1930.4,757.9 L1931.2,754.0 L1931.9,750.1 L1932.6,746.1 L1933.3,742.2 L1933.9,738.3 L1934.6,734.3 L1935.2,730.4 L1935.8,726.4 L1936.4,722.4 L1937.0,718.5 L1937.6,714.5 L1938.1,710.6 L1938.6,706.6 L1939.1,702.6 L1939.6,698.7 L1940.1,694.7 L1940.6,690.7 L1941.1,686.7 L1941.5,682.8 L1942.0,678.8 L1942.4,674.8 L1942.9,670.8 L1943.3,666.9 L1943.8,662.9 L1944.2,658.9 L1944.7,655.0 L1945.2,651.0 L1945.7,647.0 L1946.1,643.0 L1946.6,639.1 L1947.1,635.1 L1947.6,631.1 L1948.1,627.2 L1948.6,623.2 L1949.1,619.2 L1949.6,615.3 L1950.0,611.3 L1950.5,607.3 L1951.0,603.3 L1951.4,599.4 L1951.9,595.4 L1952.3,591.4 L1952.8,587.4 L1953.2,583.5 L1953.6,579.5 L1954.1,575.5 L1954.5,571.5 L1954.9,567.5 L1955.3,563.6 L1955.7,559.6 L1956.1,555.6 L1956.5,551.6 L1956.9,547.6 L1957.2,543.7 L1957.6,539.7 L1958.0,535.7 L1958.4,531.7 L1958.8,527.7 L1959.2,523.8 L1959.5,519.8 L1959.9,515.8 L1960.3,511.8 L1960.7,507.8 L1961.0,503.8 L1961.4,499.9 L1961.8,495.9 L1962.1,491.9 L1962.5,487.9 L1962.8,483.9 L1963.2,479.9 L1963.5,476.0 L1963.9,472.0 L1964.2,468.0 L1964.6,464.0 L1964.9,460.0 L1965.3,456.0 L1965.6,452.0 L1966.0,448.1 L1966.3,444.1 L1966.7,440.1 L1967.1,436.1 L1967.4,432.1 L1967.8,428.1 L1968.2,424.2 L1968.6,420.2 L1969.0,416.2 L1969.4,412.2 L1969.8,408.2 L1970.2,404.3 L1970.6,400.3 L1971.1,396.3 L1971.5,392.3 L1971.9,388.4 L1972.3,384.4 L1972.8,380.4 L1973.2,376.4 L1973.7,372.5 L1974.1,368.5 L1974.6,364.5 L1975.0,360.5 L1975.5,356.6 L1976.0,352.6 L1976.5,348.6 L1977.0,344.6 L1977.5,340.7 L1978.0,336.7 L1978.5,332.7 L1979.0,328.8 L1979.6,324.8 L1980.1,320.9 L1980.7,316.9 L1981.3,312.9 L1981.9,309.0 L1982.6,305.0 L1983.2,301.1 L1983.9,297.2 L1984.6,293.2 L1985.3,289.3 L1986.0,285.3 L1986.7,281.4 L1987.5,277.5 L1988.3,273.6 L1989.1,269.6 L1989.9,265.7 L1990.8,261.8 L1991.6,257.9 L1992.6,254.0 L1993.6,250.2 L1994.6,246.3 L1995.8,242.5 L1997.0,238.7 L1998.4,234.9 L1999.8,231.2 L2001.4,227.5 L2003.0,223.8 L2004.8,220.2 L2006.6,216.7 L2008.6,213.2 L2010.8,209.9 L2013.3,206.7 L2015.9,203.8 L2018.7,200.9 L2021.6,198.1 L2024.5,195.4 L2027.3,192.5 L2030.0,189.6 L2032.7,186.7 L2035.4,183.7 L2038.1,180.7 L2040.8,177.8 L2043.6,174.9 L2046.3,172.0 L2049.1,169.1 L2052.0,166.4 L2055.1,163.8 L2058.2,161.3 L2061.4,159.0 L2064.8,156.8 L2068.2,154.7 L2071.7,152.7 L2075.2,150.9 L2078.9,149.2 L2082.6,147.8 L2086.4,146.7 L2090.3,145.9 L2094.3,145.4 L2098.3,145.1 L2102.3,145.0 L2106.3,145.1 L2110.3,145.2 L2114.3,145.4 L2118.3,145.7 L2122.3,145.9 L2126.3,146.2 L2130.3,146.4 L2134.3,146.7 L2138.3,146.9 L2142.3,147.1 L2146.2,147.3 L2150.2,147.4 L2154.2,147.6 L2158.2,147.8 L2162.2,147.9 L2166.2,148.1 L2170.2,148.2 L2174.2,148.4 L2178.2,148.5 L2182.2,148.7 L2186.2,148.8 L2190.2,149.0 L2194.2,149.1 L2198.2,149.3 L2202.2,149.5 L2206.2,149.6 L2210.2,149.8 L2214.2,150.0 L2218.2,150.1 L2222.2,150.3 L2226.2,150.5 L2230.2,150.7 L2234.2,150.9 L2238.2,151.1 L2242.2,151.3 L2246.2,151.5 L2250.2,151.7 L2254.1,151.9 L2258.1,152.1 L2262.1,152.3 L2266.1,152.5 L2270.1,152.7 L2274.1,153.0 L2278.1,153.2 L2282.1,153.4 L2286.1,153.6 L2290.1,153.8 L2294.1,153.9 L2298.1,154.1 L2302.1,154.3 L2306.1,154.5 L2310.1,154.7 L2314.1,154.9 L2318.1,155.1 L2322.1,155.3 L2326.1,155.5 L2330.2,155.7 L2334.2,155.9 L2338.0,156.0 L2341.3,156.2 L2342.5,156.2" stroke="#000000" stroke-width="7.3"/>
<path d="M1368.0,144.0 L1371.8,145.2 L1375.6,146.4 L1379.4,147.7 L1383.2,149.0 L1387.0,150.3 L1390.8,151.6 L1394.5,153.0 L1398.3,154.4 L1402.0,155.7 L1405.8,157.1 L1409.5,158.5 L1413.2,160.0 L1417.0,161.5 L1420.6,163.0 L1424.3,164.7 L1427.9,166.4 L1431.5,168.2 L1435.0,170.1 L1438.5,172.0 L1442.0,174.0 L1445.4,176.1 L1448.8,178.2 L1452.1,180.5 L1455.3,182.9 L1458.4,185.4 L1461.4,188.0 L1464.5,190.6 L1467.6,193.0 L1470.9,195.4 L1474.2,197.5 L1477.7,199.5 L1481.2,201.4 L1484.9,203.1 L1488.5,204.7 L1492.3,206.1 L1496.1,207.2 L1500.0,207.9 L1504.0,208.4 L1508.0,208.7 L1512.0,208.9 L1516.0,209.1 L1520.0,209.3 L1524.0,209.5 L1528.0,209.6 L1532.0,209.7 L1536.0,209.9 L1540.0,210.0 L1544.0,210.1 L1548.0,210.4 L1551.9,210.7 L1555.9,211.4 L1559.8,212.3 L1563.6,213.5 L1567.2,215.2 L1570.6,217.3 L1573.7,219.7 L1576.7,222.4 L1579.4,225.3 L1582.0,228.4 L1584.4,231.6 L1586.7,234.9 L1588.8,238.2 L1590.9,241.7 L1592.9,245.1 L1594.8,248.6 L1596.7,252.2 L1598.5,255.7 L1600.3,259.3 L1602.0,262.9 L1603.7,266.6 L1605.3,270.2 L1606.9,273.9 L1608.5,277.5 L1610.1,281.2 L1611.6,284.9 L1613.1,288.6 L1614.6,292.3 L1616.0,296.1 L1617.4,299.8 L1618.9,303.6 L1620.3,307.3 L1621.6,311.1 L1623.0,314.8 L1624.5,318.6 L1625.9,322.3 L1627.3,326.0 L1628.7,329.8 L1630.1,333.5 L1631.5,337.3 L1632.9,341.0 L1634.3,344.8 L1635.7,348.5 L1637.1,352.3 L1638.5,356.0 L1639.9,359.7 L1641.3,363.5 L1642.7,367.3 L1644.0,371.0 L1645.4,374.8 L1646.7,378.5 L1648.1,382.3 L1649.5,386.1 L1650.9,389.8 L1652.4,393.5 L1653.9,397.2 L1655.4,400.9 L1656.9,404.6 L1658.5,408.3 L1660.1,412.0 L1661.8,415.6 L1663.6,419.2 L1665.5,422.7 L1667.5,426.2 L1669.7,429.7 L1672.1,433.0 L1674.8,435.9 L1677.9,437.9 L1681.4,438.7 L1685.1,438.1 L1688.5,436.4 L1691.5,433.7 L1694.0,430.5 L1696.0,427.0 L1697.7,423.4 L1699.3,419.7 L1700.9,416.0 L1702.4,412.3 L1703.8,408.6 L1705.2,404.8 L1706.5,401.0 L1707.8,397.2 L1709.0,393.4 L1710.2,389.6 L1711.5,385.8 L1712.7,382.0 L1713.9,378.2 L1715.0,374.3 L1716.2,370.5 L1717.3,366.7 L1718.4,362.8 L1719.5,359.0 L1720.6,355.1 L1721.7,351.3 L1722.8,347.5 L1724.0,343.6 L1725.1,339.8 L1726.2,335.9 L1727.3,332.1 L1728.4,328.2 L1729.5,324.4 L1730.6,320.6 L1731.7,316.7 L1732.9,312.9 L1734.0,309.0 L1735.1,305.2 L1736.3,301.4 L1737.5,297.6 L1738.7,293.7 L1739.9,289.9 L1741.1,286.1 L1742.3,282.3 L1743.5,278.5 L1744.8,274.7 L1746.0,270.9 L1747.4,267.1 L1748.7,263.4 L1750.1,259.6 L1751.6,255.9 L1753.1,252.2 L1754.7,248.5 L1756.2,244.8 L1757.9,241.2 L1759.7,237.6 L1761.6,234.1 L1763.6,230.6 L1765.8,227.3 L1768.1,224.0 L1770.6,220.9 L1773.3,217.9 L1776.2,215.2 L1779.4,212.8 L1782.8,210.8 L1786.5,209.2 L1790.3,208.0 L1794.2,207.2 L1798.2,206.6 L1802.2,206.3 L1806.2,206.4 L1810.1,206.9 L1814.0,207.9 L1817.7,209.4 L1821.1,211.5 L1824.1,214.0 L1826.9,216.8 L1829.4,220.0 L1831.6,223.4 L1833.6,226.8 L1835.4,230.4 L1837.0,234.1 L1838.5,237.8 L1839.8,241.5 L1841.1,245.3 L1842.2,249.2 L1843.2,253.1 L1844.1,256.9 L1845.0,260.9 L1845.8,264.8 L1846.6,268.7 L1847.4,272.6 L1848.3,276.5 L1849.2,280.4 L1850.1,284.3 L1851.0,288.2 L1851.9,292.1 L1852.8,296.0 L1853.7,299.9 L1854.6,303.8 L1855.5,307.7 L1856.3,311.6 L1857.1,315.5 L1857.9,319.4 L1858.7,323.4 L1859.4,327.3 L1860.1,331.2 L1860.8,335.2 L1861.5,339.1 L1862.1,343.1 L1862.7,347.0 L1863.4,351.0 L1864.0,354.9 L1864.6,358.9 L1865.2,362.8 L1865.8,366.8 L1866.4,370.7 L1867.0,374.7 L1867.6,378.7 L1868.1,382.6 L1868.7,386.6 L1869.3,390.5 L1869.9,394.5 L1870.4,398.4 L1871.0,402.4 L1871.5,406.4 L1872.1,410.3 L1872.6,414.3 L1873.1,418.3 L1873.6,422.2 L1874.2,426.2 L1874.7,430.2 L1875.2,434.1 L1875.7,438.1 L1876.3,442.1 L1876.8,446.0 L1877.3,450.0 L1877.9,454.0 L1878.4,457.9 L1878.9,461.9 L1879.4,465.9 L1879.9,469.8 L1880.4,473.8 L1880.9,477.8 L1881.5,481.7 L1882.0,485.7 L1882.5,489.7 L1883.0,493.6 L1883.4,497.6 L1883.9,501.6 L1884.4,505.5 L1884.9,509.5 L1885.4,513.5 L1885.8,517.5 L1886.3,521.4 L1886.8,525.4 L1887.3,529.4 L1887.7,533.3 L1888.2,537.3 L1888.7,541.3 L1889.1,545.3 L1889.6,549.2 L1890.1,553.2 L1890.6,557.2 L1891.0,561.1 L1891.5,565.1 L1892.0,569.1 L1892.5,573.1 L1892.9,577.0 L1893.4,581.0 L1893.9,585.0 L1894.4,588.9 L1894.9,592.9 L1895.3,596.9 L1895.8,600.9 L1896.3,604.8 L1896.8,608.8 L1897.2,612.8 L1897.7,616.7 L1898.2,620.7 L1898.7,624.7 L1899.1,628.7 L1899.6,632.6 L1900.1,636.6 L1900.6,640.6 L1901.0,644.5 L1901.5,648.5 L1902.0,652.5 L1902.5,656.5 L1903.0,660.4 L1903.4,664.4 L1903.9,668.4 L1904.4,672.3 L1904.9,676.3 L1905.3,680.3 L1905.8,684.3 L1906.3,688.2 L1906.7,692.2 L1907.2,696.2 L1907.6,700.2 L1908.1,704.1 L1908.5,708.1 L1909.0,712.1 L1909.5,716.1 L1909.9,720.0 L1910.4,724.0 L1910.9,728.0 L1911.4,731.9 L1911.9,735.9 L1912.5,739.9 L1913.0,743.8 L1913.6,747.8 L1914.2,751.7 L1914.8,755.7 L1915.4,759.7 L1916.0,763.6 L1916.6,767.6 L1917.2,771.5 L1917.9,775.4 L1918.7,779.4 L1919.4,783.3 L1920.3,787.2 L1921.1,791.1 L1922.0,795.0 L1923.0,798.9 L1924.0,802.8 L1925.1,806.6 L1926.4,810.6 L1927.9,814.5 L1929.8,818.2 L1932.1,821.0 L1934.8,822.4 L1937.7,821.9 L1940.4,819.9 L1942.9,816.7 L1944.9,813.0 L1946.5,809.1 L1947.9,805.3 L1949.1,801.5 L1950.2,797.7 L1951.4,793.8 L1952.5,790.0 L1953.7,786.2 L1954.8,782.3 L1955.9,778.5 L1956.9,774.6 L1958.0,770.8 L1959.0,766.9 L1960.0,763.0 L1960.9,759.1 L1961.9,755.2 L1962.8,751.3 L1963.7,747.4 L1964.5,743.5 L1965.4,739.6 L1966.2,735.7 L1967.0,731.8 L1967.8,727.9 L1968.6,724.0 L1969.4,720.0 L1970.1,716.1 L1970.9,712.2 L1971.6,708.2 L1972.4,704.3 L1973.1,700.4 L1973.8,696.4 L1974.5,692.5 L1975.3,688.6 L1976.0,684.6 L1976.7,680.7 L1977.4,676.8 L1978.1,672.8 L1978.7,668.9 L1979.4,664.9 L1980.1,661.0 L1980.8,657.1 L1981.4,653.1 L1982.1,649.2 L1982.7,645.2 L1983.3,641.3 L1984.0,637.3 L1984.6,633.4 L1985.2,629.4 L1985.9,625.5 L1986.5,621.5 L1987.1,617.6 L1987.7,613.6 L1988.3,609.7 L1988.9,605.7 L1989.5,601.7 L1990.1,597.8 L1990.7,593.8 L1991.3,589.9 L1991.9,585.9 L1992.4,582.0 L1993.0,578.0 L1993.6,574.0 L1994.1,570.1 L1994.7,566.1 L1995.2,562.2 L1995.8,558.2 L1996.3,554.2 L1996.9,550.3 L1997.4,546.3 L1998.0,542.3 L1998.5,538.4 L1999.1,534.4 L1999.6,530.5 L2000.1,526.5 L2000.7,522.5 L2001.2,518.6 L2001.7,514.6 L2002.2,510.6 L2002.7,506.7 L2003.2,502.7 L2003.7,498.7 L2004.2,494.8 L2004.7,490.8 L2005.2,486.8 L2005.6,482.8 L2006.1,478.9 L2006.6,474.9 L2007.1,470.9 L2007.6,467.0 L2008.1,463.0 L2008.6,459.0 L2009.1,455.1 L2009.6,451.1 L2010.2,447.1 L2010.7,443.2 L2011.2,439.2 L2011.8,435.2 L2012.4,431.3 L2012.9,427.3 L2013.5,423.4 L2014.1,419.4 L2014.7,415.5 L2015.3,411.5 L2016.0,407.5 L2016.6,403.6 L2017.2,399.6 L2017.9,395.7 L2018.5,391.8 L2019.2,387.8 L2019.8,383.9 L2020.5,379.9 L2021.1,376.0 L2021.8,372.0 L2022.5,368.1 L2023.1,364.1 L2023.8,360.2 L2024.5,356.3 L2025.2,352.3 L2025.9,348.4 L2026.6,344.4 L2027.3,340.5 L2028.0,336.6 L2028.7,332.6 L2029.4,328.7 L2030.1,324.8 L2030.9,320.8 L2031.6,316.9 L2032.4,313.0 L2033.2,309.1 L2034.0,305.1 L2034.8,301.2 L2035.7,297.3 L2036.6,293.4 L2037.4,289.5 L2038.3,285.6 L2039.2,281.7 L2040.1,277.8 L2041.0,273.9 L2041.9,270.0 L2042.8,266.1 L2043.6,262.2 L2044.4,258.3 L2045.2,254.4 L2046.0,250.4 L2046.8,246.5 L2047.6,242.6 L2048.3,238.7 L2049.1,234.7 L2049.9,230.8 L2050.7,226.9 L2051.6,223.0 L2052.5,219.1 L2053.5,215.2 L2054.5,211.3 L2055.5,207.5 L2056.6,203.6 L2057.7,199.8 L2058.9,196.0 L2060.1,192.2 L2061.3,188.3 L2062.5,184.5 L2063.8,180.7 L2065.0,176.9 L2066.2,173.1 L2067.4,169.3 L2068.7,165.5 L2069.9,161.7 L2071.3,157.9 L2072.7,154.2 L2074.3,150.5 L2075.9,146.9 L2077.7,143.3 L2079.7,139.8 L2081.8,136.4 L2084.3,133.2 L2087.2,130.4 L2090.4,128.2 L2094.0,127.0 L2097.8,126.7 L2101.6,127.4 L2105.3,128.9 L2108.9,130.8 L2112.4,132.9 L2115.8,135.0 L2119.3,137.0 L2122.9,138.5 L2126.7,139.6 L2130.6,140.3 L2134.6,140.6 L2138.6,140.8 L2142.6,140.8 L2146.6,140.8 L2150.6,140.7 L2154.6,140.7 L2158.6,140.6 L2162.6,140.6 L2166.6,140.5 L2170.6,140.5 L2174.6,140.4 L2178.6,140.4 L2182.6,140.3 L2186.6,140.2 L2190.6,140.2 L2194.6,140.1 L2198.6,140.1 L2202.6,140.1 L2206.6,140.0 L2210.6,140.0 L2214.6,140.0 L2218.6,140.0 L2222.6,140.0 L2226.6,140.0 L2230.6,140.0 L2234.6,140.0 L2238.6,140.0 L2242.6,140.1 L2246.6,140.1 L2250.6,140.1 L2254.6,140.1 L2258.6,140.1 L2262.6,140.2 L2266.6,140.2 L2270.6,140.2 L2274.6,140.3 L2278.6,140.3 L2282.6,140.3 L2286.6,140.4 L2290.6,140.4 L2294.6,140.5 L2298.6,140.5 L2302.6,140.6 L2306.6,140.7 L2310.6,140.7 L2314.6,140.8 L2318.6,140.9 L2322.6,140.9 L2326.6,141.0 L2330.7,141.1 L2334.7,141.2 L2338.9,141.3 L2342.8,141.3 L2346.3,141.4 L2349.0,141.5 L2349.0,141.5" stroke="#ff0000" stroke-width="7.3"/>
<path d="M1368.0,141.2 L1371.9,142.2 L1375.7,143.3 L1379.6,144.3 L1383.5,145.4 L1387.3,146.5 L1391.1,147.6 L1395.0,148.8 L1398.8,149.9 L1402.6,151.1 L1406.4,152.4 L1410.2,153.7 L1414.0,155.0 L1417.8,156.3 L1421.5,157.6 L1425.3,158.9 L1429.1,160.2 L1432.9,161.4 L1436.7,162.6 L1440.5,163.9 L1444.3,165.3 L1448.0,166.7 L1451.7,168.3 L1455.3,170.0 L1458.9,171.8 L1462.4,173.6 L1465.9,175.6 L1469.3,177.6 L1472.7,179.8 L1476.1,182.0 L1479.4,184.2 L1482.7,186.4 L1486.1,188.6 L1489.5,190.7 L1493.0,192.6 L1496.5,194.5 L1500.1,196.2 L1503.8,197.8 L1507.5,199.2 L1511.4,200.4 L1515.2,201.4 L1519.1,202.3 L1523.1,203.0 L1527.0,203.6 L1531.0,204.1 L1535.0,204.5 L1539.0,204.8 L1542.9,205.0 L1546.9,205.3 L1550.9,205.5 L1554.9,205.8 L1558.9,206.2 L1562.9,206.7 L1566.8,207.5 L1570.6,208.6 L1574.3,210.1 L1577.9,211.8 L1581.4,213.9 L1584.6,216.2 L1587.7,218.7 L1590.7,221.4 L1593.5,224.3 L1596.1,227.3 L1598.6,230.4 L1601.0,233.6 L1603.3,236.9 L1605.4,240.3 L1607.4,243.7 L1609.3,247.2 L1611.1,250.8 L1612.8,254.5 L1614.3,258.1 L1615.7,261.9 L1617.1,265.6 L1618.5,269.4 L1619.8,273.2 L1621.1,277.0 L1622.4,280.7 L1623.8,284.5 L1625.1,288.3 L1626.4,292.0 L1627.8,295.8 L1629.1,299.6 L1630.4,303.4 L1631.7,307.2 L1633.0,310.9 L1634.3,314.7 L1635.6,318.5 L1636.9,322.3 L1638.2,326.1 L1639.6,329.8 L1640.9,333.6 L1642.3,337.3 L1643.7,341.1 L1645.1,344.8 L1646.5,348.6 L1647.9,352.3 L1649.3,356.1 L1650.8,359.8 L1652.3,363.5 L1653.8,367.2 L1655.4,370.9 L1657.0,374.5 L1658.7,378.2 L1660.3,381.8 L1662.1,385.4 L1663.8,389.0 L1665.7,392.5 L1667.6,396.0 L1669.7,399.5 L1671.8,402.9 L1674.0,406.2 L1676.2,409.5 L1678.6,412.7 L1681.2,415.8 L1684.0,418.7 L1687.0,421.3 L1690.3,423.7 L1693.7,425.7 L1697.4,427.0 L1701.3,427.6 L1705.2,427.4 L1709.1,426.5 L1712.7,424.9 L1716.0,422.7 L1719.0,420.1 L1721.7,417.1 L1724.3,414.0 L1726.8,410.9 L1729.2,407.7 L1731.6,404.5 L1734.0,401.3 L1736.2,398.0 L1738.5,394.7 L1740.8,391.4 L1743.0,388.1 L1745.2,384.7 L1747.4,381.4 L1749.6,378.0 L1751.8,374.7 L1754.0,371.4 L1756.3,368.1 L1758.6,364.8 L1760.9,361.5 L1763.2,358.3 L1765.7,355.1 L1768.2,352.0 L1770.9,349.0 L1773.6,346.1 L1776.5,343.4 L1779.6,340.9 L1783.0,338.7 L1786.5,336.9 L1790.2,335.5 L1794.1,334.5 L1798.1,334.0 L1802.1,333.7 L1806.1,333.8 L1810.1,334.1 L1814.1,334.9 L1817.7,336.3 L1821.0,338.4 L1823.8,341.1 L1826.0,344.4 L1827.7,348.0 L1829.0,351.8 L1830.1,355.7 L1831.1,359.6 L1832.1,363.5 L1833.1,367.4 L1834.0,371.3 L1834.8,375.2 L1835.6,379.1 L1836.4,383.0 L1837.1,387.0 L1837.8,390.9 L1838.6,394.8 L1839.3,398.8 L1840.0,402.7 L1840.8,406.6 L1841.5,410.5 L1842.2,414.5 L1842.9,418.4 L1843.7,422.4 L1844.4,426.3 L1845.1,430.2 L1845.9,434.1 L1846.7,438.1 L1847.5,442.0 L1848.4,445.9 L1849.3,449.8 L1850.2,453.7 L1851.2,457.5 L1852.2,461.4 L1853.2,465.3 L1854.3,469.1 L1855.3,473.0 L1856.4,476.9 L1857.5,480.7 L1858.5,484.6 L1859.6,488.4 L1860.6,492.3 L1861.6,496.2 L1862.6,500.0 L1863.7,503.9 L1864.7,507.8 L1865.7,511.6 L1866.7,515.5 L1867.8,519.4 L1868.9,523.2 L1870.0,527.0 L1871.2,530.9 L1872.4,534.7 L1873.7,538.5 L1875.0,542.2 L1876.3,546.0 L1877.8,549.7 L1879.3,553.5 L1880.9,557.2 L1882.7,560.8 L1884.8,564.3 L1887.3,567.3 L1890.4,569.6 L1893.9,570.9 L1897.8,571.2 L1901.7,570.4 L1905.3,568.7 L1908.4,566.3 L1910.9,563.3 L1913.0,559.9 L1914.8,556.3 L1916.4,552.6 L1918.0,548.9 L1919.6,545.2 L1921.0,541.5 L1922.4,537.7 L1923.8,534.0 L1925.0,530.2 L1926.3,526.4 L1927.5,522.6 L1928.7,518.7 L1929.8,514.9 L1930.9,511.1 L1932.0,507.2 L1933.0,503.3 L1934.0,499.5 L1935.0,495.6 L1935.9,491.7 L1936.9,487.8 L1937.7,483.9 L1938.5,480.0 L1939.3,476.1 L1940.0,472.1 L1940.6,468.2 L1941.3,464.2 L1941.9,460.3 L1942.6,456.3 L1943.3,452.4 L1944.1,448.5 L1945.0,444.6 L1946.3,440.8 L1947.7,437.1 L1949.3,433.4 L1950.8,429.7 L1952.1,426.0 L1953.3,422.2 L1954.3,418.3 L1955.3,414.4 L1956.4,410.5 L1957.6,406.7 L1959.0,402.9 L1960.9,399.5 L1963.3,396.5 L1966.2,394.0 L1969.4,391.6 L1972.5,389.2 L1975.3,386.5 L1977.7,383.3 L1979.8,379.9 L1981.8,376.4 L1983.7,372.9 L1985.6,369.4 L1987.4,365.8 L1989.2,362.2 L1990.9,358.6 L1992.5,355.0 L1994.0,351.3 L1995.5,347.5 L1996.9,343.8 L1998.2,340.0 L1999.5,336.2 L2000.8,332.4 L2002.1,328.7 L2003.4,324.9 L2004.7,321.1 L2006.0,317.3 L2007.2,313.5 L2008.5,309.7 L2009.8,305.9 L2011.0,302.1 L2012.3,298.3 L2013.5,294.5 L2014.8,290.7 L2016.0,286.9 L2017.3,283.1 L2018.6,279.3 L2019.8,275.5 L2021.1,271.7 L2022.4,267.9 L2023.6,264.1 L2024.9,260.4 L2026.1,256.6 L2027.4,252.8 L2028.6,248.9 L2029.8,245.1 L2031.1,241.3 L2032.4,237.6 L2033.7,233.8 L2035.0,230.0 L2036.3,226.2 L2037.7,222.5 L2039.0,218.7 L2040.4,214.9 L2042.0,211.2 L2043.7,207.6 L2045.7,204.2 L2047.9,200.9 L2050.4,197.8 L2052.9,194.7 L2055.5,191.6 L2058.0,188.4 L2060.4,185.3 L2063.0,182.3 L2065.8,179.4 L2068.8,176.8 L2072.0,174.4 L2075.3,172.2 L2078.8,170.2 L2082.5,168.5 L2086.2,167.2 L2090.1,166.2 L2094.0,165.5 L2098.0,165.2 L2102.0,165.2 L2105.9,165.6 L2109.9,166.3 L2113.8,167.1 L2117.7,168.1 L2121.6,169.0 L2125.5,170.0 L2129.3,171.0 L2133.2,172.1 L2137.1,173.0 L2141.0,173.9 L2144.9,174.8 L2148.8,175.6 L2152.7,176.3 L2156.7,177.1 L2160.6,177.8 L2164.5,178.7 L2168.4,179.5 L2172.3,180.4 L2176.2,181.4 L2180.1,182.3 L2184.0,183.2 L2187.9,184.1 L2191.8,184.8 L2195.7,185.6 L2199.7,186.3 L2203.6,186.9 L2207.6,187.5 L2211.5,188.1 L2215.5,188.6 L2219.5,189.1 L2223.4,189.6 L2227.4,190.0 L2231.4,190.4 L2235.4,190.6 L2239.4,190.8 L2243.4,190.8 L2247.4,190.7 L2251.4,190.6 L2255.4,190.5 L2259.4,190.3 L2263.4,190.1 L2267.4,189.8 L2271.3,189.3 L2275.3,188.7 L2279.2,187.9 L2283.1,187.1 L2287.0,186.2 L2290.9,185.3 L2294.8,184.4 L2298.7,183.4 L2302.5,182.3 L2306.4,181.2 L2310.2,180.1 L2314.1,179.0 L2317.9,177.9 L2321.8,176.8 L2325.6,175.7 L2329.5,174.6 L2333.4,173.5 L2337.3,172.3 L2341.2,171.1 L2344.7,170.1 L2347.9,169.1 L2349.0,168.8" stroke="#00ff00" stroke-width="7.3"/>
<path d="M1368.0,145.0 L1371.8,146.2 L1375.6,147.4 L1379.4,148.6 L1383.2,149.9 L1387.0,151.3 L1390.7,152.7 L1394.5,154.1 L1398.2,155.5 L1401.9,157.0 L1405.6,158.5 L1409.3,160.1 L1413.0,161.7 L1416.6,163.4 L1420.2,165.1 L1423.8,166.9 L1427.4,168.7 L1430.9,170.6 L1434.4,172.5 L1437.9,174.5 L1441.3,176.5 L1444.7,178.7 L1447.9,181.0 L1451.0,183.5 L1454.0,186.2 L1456.8,189.1 L1459.5,192.0 L1462.2,195.0 L1465.0,197.8 L1468.0,200.4 L1471.2,202.7 L1474.7,204.8 L1478.3,206.6 L1481.9,208.1 L1485.7,209.4 L1489.6,210.4 L1493.5,211.1 L1497.5,211.7 L1501.5,212.1 L1505.5,212.3 L1509.5,212.5 L1513.5,212.4 L1517.5,212.3 L1521.4,212.0 L1525.4,211.7 L1529.4,211.2 L1533.4,210.6 L1537.3,209.9 L1541.2,209.1 L1545.2,208.5 L1549.1,208.2 L1553.1,208.3 L1557.1,208.8 L1561.0,209.7 L1564.8,211.0 L1568.4,212.6 L1571.8,214.6 L1575.1,216.9 L1578.2,219.4 L1581.2,222.1 L1583.9,225.0 L1586.6,228.0 L1589.1,231.1 L1591.5,234.3 L1593.9,237.5 L1596.3,240.7 L1598.6,243.9 L1600.9,247.2 L1603.2,250.5 L1605.3,253.9 L1607.4,257.3 L1609.3,260.8 L1611.2,264.4 L1612.9,268.0 L1614.5,271.7 L1616.0,275.4 L1617.4,279.1 L1618.9,282.8 L1620.3,286.6 L1621.7,290.3 L1623.1,294.1 L1624.5,297.8 L1626.0,301.5 L1627.4,305.3 L1628.8,309.0 L1630.2,312.7 L1631.6,316.5 L1633.0,320.2 L1634.4,324.0 L1635.9,327.7 L1637.3,331.4 L1638.8,335.1 L1640.4,338.8 L1641.9,342.5 L1643.5,346.2 L1645.1,349.9 L1646.7,353.5 L1648.3,357.2 L1650.1,360.8 L1651.9,364.4 L1653.8,367.9 L1655.8,371.3 L1657.9,374.7 L1660.2,378.0 L1662.6,381.2 L1665.0,384.4 L1667.6,387.4 L1670.3,390.4 L1673.1,393.3 L1676.0,396.0 L1679.2,398.5 L1682.6,400.6 L1686.3,402.0 L1690.2,402.7 L1694.1,402.5 L1697.9,401.6 L1701.6,400.0 L1704.9,397.8 L1708.0,395.2 L1710.8,392.4 L1713.5,389.4 L1716.1,386.3 L1718.6,383.2 L1721.1,380.1 L1723.5,376.9 L1725.9,373.7 L1728.1,370.4 L1730.3,367.0 L1732.3,363.6 L1734.3,360.1 L1736.2,356.6 L1738.0,353.0 L1739.8,349.4 L1741.7,345.9 L1743.6,342.4 L1745.6,338.9 L1747.7,335.5 L1749.8,332.1 L1751.9,328.7 L1754.2,325.4 L1756.5,322.1 L1758.9,318.9 L1761.4,315.8 L1764.0,312.8 L1766.7,309.9 L1769.6,307.1 L1772.6,304.4 L1775.7,301.9 L1778.9,299.5 L1782.3,297.4 L1785.8,295.5 L1789.5,294.1 L1793.3,293.0 L1797.2,292.2 L1801.2,291.6 L1805.2,291.0 L1809.3,290.5 L1813.3,290.1 L1817.3,290.1 L1821.0,291.0 L1824.2,292.8 L1826.6,295.6 L1828.4,299.1 L1829.6,302.9 L1830.7,306.9 L1831.6,310.8 L1832.4,314.8 L1833.3,318.7 L1834.1,322.6 L1834.8,326.5 L1835.6,330.4 L1836.4,334.4 L1837.2,338.3 L1838.0,342.2 L1838.8,346.1 L1839.7,350.0 L1840.6,353.9 L1841.4,357.8 L1842.2,361.7 L1843.0,365.7 L1843.7,369.6 L1844.4,373.5 L1845.0,377.5 L1845.5,381.5 L1846.0,385.4 L1846.5,389.4 L1846.9,393.4 L1847.3,397.4 L1847.7,401.3 L1848.1,405.3 L1848.5,409.3 L1848.8,413.3 L1849.2,417.3 L1849.6,421.2 L1849.9,425.2 L1850.3,429.2 L1850.6,433.2 L1851.0,437.2 L1851.4,441.2 L1851.7,445.2 L1852.1,449.1 L1852.4,453.1 L1852.7,457.1 L1853.1,461.1 L1853.4,465.1 L1853.7,469.1 L1854.0,473.1 L1854.3,477.0 L1854.7,481.0 L1855.0,485.0 L1855.3,489.0 L1855.6,493.0 L1855.9,497.0 L1856.3,501.0 L1856.6,505.0 L1857.0,508.9 L1857.3,512.9 L1857.7,516.9 L1858.0,520.9 L1858.4,524.9 L1858.8,528.9 L1859.2,532.8 L1859.5,536.8 L1859.9,540.8 L1860.3,544.8 L1860.7,548.8 L1861.1,552.7 L1861.5,556.7 L1861.9,560.7 L1862.3,564.7 L1862.7,568.7 L1863.1,572.6 L1863.6,576.6 L1864.0,580.6 L1864.4,584.6 L1864.8,588.5 L1865.3,592.5 L1865.7,596.5 L1866.2,600.5 L1866.6,604.4 L1867.1,608.4 L1867.5,612.4 L1868.0,616.4 L1868.5,620.3 L1868.9,624.3 L1869.4,628.3 L1869.9,632.3 L1870.4,636.2 L1870.9,640.2 L1871.4,644.2 L1871.9,648.1 L1872.4,652.1 L1873.0,656.1 L1873.5,660.0 L1874.1,664.0 L1874.6,667.9 L1875.2,671.9 L1875.7,675.9 L1876.3,679.8 L1876.9,683.8 L1877.5,687.7 L1878.1,691.7 L1878.8,695.6 L1879.5,699.6 L1880.2,703.5 L1881.0,707.4 L1881.8,711.4 L1882.6,715.3 L1883.4,719.2 L1884.4,723.1 L1885.3,726.9 L1886.3,730.8 L1887.4,734.7 L1888.5,738.5 L1889.8,742.3 L1891.1,746.1 L1892.5,749.8 L1893.9,753.6 L1895.4,757.3 L1897.1,761.2 L1899.1,764.9 L1901.5,768.1 L1904.3,770.1 L1907.2,770.5 L1909.9,769.1 L1912.0,766.1 L1913.5,762.4 L1914.6,758.3 L1915.3,754.2 L1916.0,750.2 L1916.7,746.3 L1917.3,742.3 L1917.9,738.4 L1918.5,734.4 L1919.0,730.4 L1919.5,726.5 L1920.0,722.5 L1920.5,718.5 L1920.9,714.5 L1921.4,710.6 L1921.8,706.6 L1922.2,702.6 L1922.6,698.6 L1923.1,694.7 L1923.5,690.7 L1923.9,686.7 L1924.4,682.7 L1924.9,678.8 L1925.3,674.8 L1925.8,670.8 L1926.3,666.8 L1926.8,662.9 L1927.3,658.9 L1927.8,654.9 L1928.3,651.0 L1928.7,647.0 L1929.2,643.0 L1929.7,639.1 L1930.2,635.1 L1930.7,631.1 L1931.1,627.1 L1931.6,623.2 L1932.0,619.2 L1932.5,615.2 L1932.9,611.2 L1933.3,607.3 L1933.8,603.3 L1934.2,599.3 L1934.6,595.3 L1935.0,591.4 L1935.4,587.4 L1935.8,583.4 L1936.2,579.4 L1936.5,575.4 L1936.9,571.4 L1937.3,567.5 L1937.6,563.5 L1938.0,559.5 L1938.3,555.5 L1938.6,551.5 L1939.0,547.5 L1939.3,543.5 L1939.6,539.6 L1939.9,535.6 L1940.2,531.6 L1940.5,527.6 L1940.8,523.6 L1941.1,519.6 L1941.4,515.6 L1941.7,511.6 L1942.1,507.7 L1942.4,503.7 L1942.7,499.7 L1943.1,495.7 L1943.5,491.7 L1943.8,487.7 L1944.2,483.7 L1944.6,479.8 L1945.0,475.8 L1945.3,471.8 L1945.7,467.8 L1946.1,463.8 L1946.5,459.9 L1946.9,455.9 L1947.3,451.9 L1947.7,447.9 L1948.1,443.9 L1948.5,440.0 L1948.9,436.0 L1949.3,432.0 L1949.7,428.0 L1950.2,424.0 L1950.6,420.1 L1951.0,416.1 L1951.4,412.1 L1951.9,408.1 L1952.3,404.2 L1952.8,400.2 L1953.2,396.2 L1953.6,392.2 L1954.1,388.3 L1954.5,384.3 L1955.0,380.3 L1955.5,376.3 L1955.9,372.4 L1956.4,368.4 L1956.9,364.4 L1957.4,360.5 L1958.0,356.5 L1958.5,352.5 L1959.1,348.6 L1959.6,344.6 L1960.2,340.7 L1960.8,336.7 L1961.5,332.8 L1962.2,328.8 L1963.1,324.9 L1964.0,321.0 L1965.0,317.1 L1966.1,313.2 L1967.6,309.2 L1969.4,305.6 L1971.9,302.7 L1974.8,301.1 L1977.8,301.4 L1980.6,303.4 L1983.1,306.6 L1985.5,310.1 L1988.0,312.7 L1990.9,313.7 L1993.9,313.0 L1997.0,310.9 L1999.9,307.9 L2002.5,304.6 L2004.9,301.3 L2007.1,298.0 L2009.2,294.5 L2011.0,291.0 L2012.8,287.4 L2014.5,283.8 L2016.1,280.1 L2017.8,276.5 L2019.4,272.8 L2021.1,269.2 L2022.6,265.5 L2024.2,261.8 L2025.8,258.2 L2027.3,254.5 L2028.8,250.7 L2030.3,247.0 L2031.7,243.3 L2033.2,239.6 L2034.7,235.9 L2036.1,232.1 L2037.6,228.4 L2039.1,224.7 L2040.5,221.0 L2042.0,217.3 L2043.5,213.6 L2045.0,209.9 L2046.6,206.2 L2048.1,202.5 L2049.7,198.8 L2051.3,195.1 L2053.0,191.5 L2054.8,187.9 L2056.8,184.5 L2058.9,181.1 L2061.1,177.7 L2063.4,174.5 L2065.9,171.3 L2068.4,168.2 L2071.0,165.2 L2073.8,162.3 L2076.8,159.6 L2080.0,157.3 L2083.5,155.3 L2087.2,153.9 L2091.0,153.0 L2095.0,152.6 L2099.0,152.8 L2102.9,153.3 L2106.9,154.1 L2110.7,155.2 L2114.5,156.4 L2118.3,157.7 L2122.1,159.0 L2125.9,160.2 L2129.7,161.5 L2133.5,162.7 L2137.4,163.8 L2141.2,165.0 L2145.0,166.2 L2148.8,167.5 L2152.6,168.8 L2156.3,170.1 L2160.1,171.5 L2163.8,172.9 L2167.6,174.4 L2171.3,175.9 L2175.0,177.4 L2178.7,178.8 L2182.4,180.2 L2186.2,181.6 L2190.0,183.0 L2193.7,184.3 L2197.5,185.6 L2201.3,186.9 L2205.1,188.2 L2208.9,189.3 L2212.8,190.4 L2216.6,191.4 L2220.5,192.3 L2224.4,193.2 L2228.4,194.0 L2232.3,194.7 L2236.3,195.3 L2240.2,195.9 L2244.2,196.3 L2248.2,196.7 L2252.2,196.9 L2256.2,197.0 L2260.2,196.9 L2264.2,196.8 L2268.2,196.6 L2272.2,196.3 L2276.1,195.8 L2280.1,195.2 L2284.0,194.5 L2287.9,193.6 L2291.8,192.6 L2295.6,191.5 L2299.4,190.3 L2303.3,189.1 L2307.0,187.8 L2310.8,186.5 L2314.6,185.2 L2318.4,183.8 L2322.1,182.4 L2325.8,181.0 L2329.6,179.5 L2333.3,178.0 L2337.1,176.5 L2340.8,174.9 L2344.3,173.4 L2347.6,171.9 L2349.0,171.3" stroke="#0000ff" stroke-width="7.3"/>
</g>
<g font-size="41.8" font-weight="bold" fill="#000">
<text transform="translate(1368.0,888) scale(1,1.06)" text-anchor="middle">200</text>
<text transform="translate(1612.8,888) scale(1,1.06)" text-anchor="middle">300</text>
<text transform="translate(1857.5,888) scale(1,1.06)" text-anchor="middle">400</text>
<text transform="translate(2102.2,888) scale(1,1.06)" text-anchor="middle">500</text>
<text transform="translate(2347.0,888) scale(1,1.06)" text-anchor="middle">600</text>
</g>
<text transform="translate(1327.8,442.8) rotate(-90)" font-size="44.3" text-anchor="middle">First derivative</text>
<text transform="translate(1444,422.7) scale(1,1.055)" font-size="90">T</text>
<text x="1498.5" y="458.09999999999997" font-size="52.6">dS1</text>
<text transform="translate(1491,575.5) scale(1,1.055)" font-size="90">T</text>
<text x="1545.5" y="610.9" font-size="52.6">dS2</text>
<text transform="translate(1605.2,763.5) scale(1,1.055)" font-size="90">T</text>
<text x="1659.7" y="798.9" font-size="52.6">dS3</text>
<line x1="1444.2" y1="292.5" x2="1466.8" y2="258.2" stroke="#000" stroke-width="3.4" stroke-linecap="round"/>
<path d="M1475.1,266.1 L1489.4,224.0 L1456.3,253.7 Z" fill="#000" stroke="#000" stroke-width="1" stroke-linejoin="round"/>
<line x1="1582.5" y1="522.7" x2="1605.0" y2="488.9" stroke="#000" stroke-width="3.4" stroke-linecap="round"/>
<path d="M1613.3,496.8 L1627.5,455.2 L1594.6,484.3 Z" fill="#000" stroke="#000" stroke-width="1" stroke-linejoin="round"/>
<line x1="1771.5" y1="788.8" x2="1845.2" y2="786.4" stroke="#000" stroke-width="3.4" stroke-linecap="round"/>
<path d="M1843.6,797.4 L1886.2,785.0 L1842.9,775.4 Z" fill="#000" stroke="#000" stroke-width="1" stroke-linejoin="round"/>
</svg>
</body></html>
